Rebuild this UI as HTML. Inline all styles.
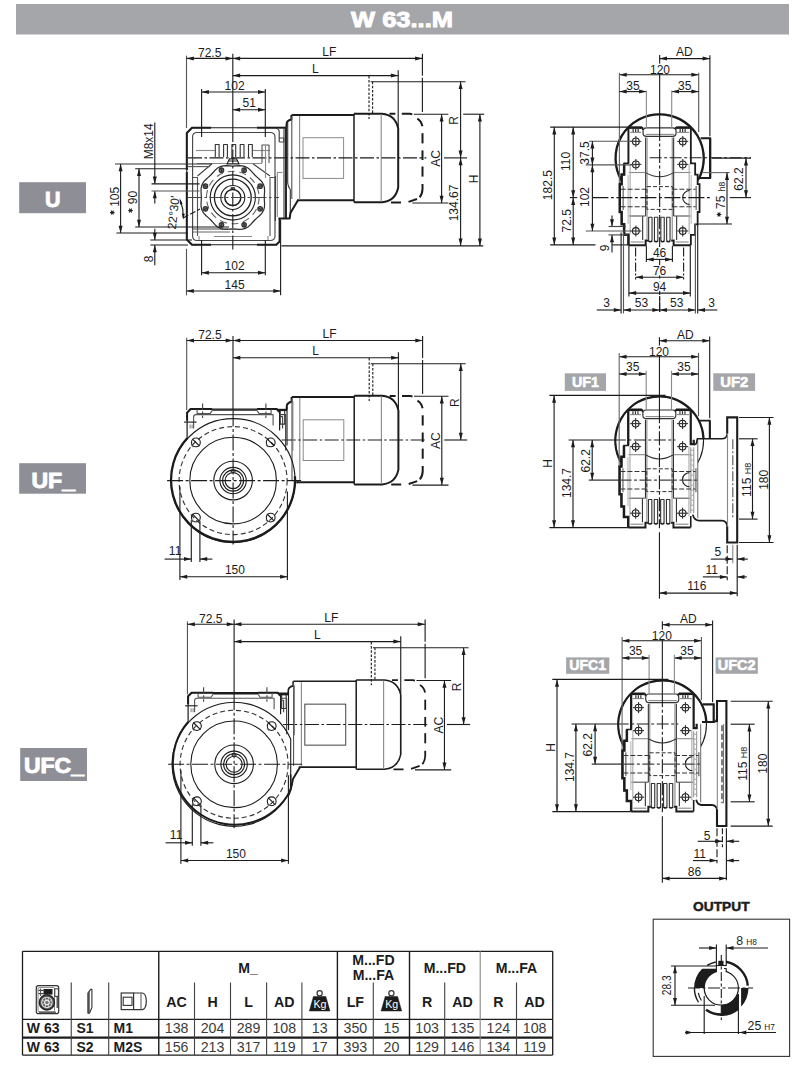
<!DOCTYPE html>
<html><head><meta charset="utf-8"><title>W 63...M</title>
<style>
html,body{margin:0;padding:0;background:#fff;}
body{width:800px;height:1073px;overflow:hidden;font-family:"Liberation Sans",sans-serif;}
svg{display:block;position:absolute;left:0;top:0;}
svg text{font-family:"Liberation Sans",sans-serif;}
</style></head><body>
<svg width="800" height="1073" viewBox="0 0 800 1073">
<rect x="16" y="4" width="773" height="30.5" fill="#a5a6a9"/>
<text x="402" y="26.6" font-size="21.5" text-anchor="middle" fill="#fff" font-weight="bold" stroke="#fff" stroke-width="0.9" textLength="102" lengthAdjust="spacingAndGlyphs">W 63...M</text>
<rect x="19.2" y="182.2" width="66.8" height="31" fill="#8e8f96"/>
<text x="45" y="207" font-size="22.5" text-anchor="start" fill="#fff" font-weight="bold" stroke="#fff" stroke-width="0.95" textLength="15.5" lengthAdjust="spacingAndGlyphs">U</text>
<rect x="19.2" y="463.2" width="66.8" height="30.5" fill="#8e8f96"/>
<text x="31.5" y="487.5" font-size="22.5" text-anchor="start" fill="#fff" font-weight="bold" stroke="#fff" stroke-width="0.95" textLength="43.5" lengthAdjust="spacingAndGlyphs">UF_</text>
<rect x="20.2" y="748" width="66.8" height="33" fill="#8e8f96"/>
<text x="24" y="773.3" font-size="22.5" text-anchor="start" fill="#fff" font-weight="bold" stroke="#fff" stroke-width="0.95" textLength="60" lengthAdjust="spacingAndGlyphs">UFC_</text>
<line x1="22.5" y1="951.3" x2="552.7" y2="951.3" stroke="#1c1c1c" stroke-width="1.3"/>
<line x1="22.5" y1="1055.1" x2="552.7" y2="1055.1" stroke="#1c1c1c" stroke-width="1.3"/>
<line x1="22.5" y1="951.3" x2="22.5" y2="1055.1" stroke="#1c1c1c" stroke-width="1.3"/>
<line x1="552.7" y1="951.3" x2="552.7" y2="1055.1" stroke="#1c1c1c" stroke-width="1.3"/>
<line x1="22.5" y1="1019.4" x2="552.7" y2="1019.4" stroke="#1c1c1c" stroke-width="1.2"/>
<line x1="22.5" y1="1037.6" x2="552.7" y2="1037.6" stroke="#1c1c1c" stroke-width="2.2"/>
<line x1="71.25" y1="982.5" x2="71.25" y2="1055.1" stroke="#444" stroke-width="1.12"/>
<line x1="108.7" y1="982.5" x2="108.7" y2="1055.1" stroke="#444" stroke-width="1.12"/>
<line x1="194.5" y1="982.5" x2="194.5" y2="1055.1" stroke="#444" stroke-width="1.12"/>
<line x1="230.5" y1="982.5" x2="230.5" y2="1055.1" stroke="#444" stroke-width="1.12"/>
<line x1="266.6" y1="982.5" x2="266.6" y2="1055.1" stroke="#444" stroke-width="1.12"/>
<line x1="301.9" y1="982.5" x2="301.9" y2="1055.1" stroke="#444" stroke-width="1.12"/>
<line x1="373.3" y1="982.5" x2="373.3" y2="1055.1" stroke="#444" stroke-width="1.12"/>
<line x1="444.7" y1="982.5" x2="444.7" y2="1055.1" stroke="#444" stroke-width="1.12"/>
<line x1="516.5" y1="982.5" x2="516.5" y2="1055.1" stroke="#444" stroke-width="1.12"/>
<line x1="158.75" y1="951.3" x2="158.75" y2="1055.1" stroke="#1c1c1c" stroke-width="1.4"/>
<line x1="337.4" y1="951.3" x2="337.4" y2="1055.1" stroke="#1c1c1c" stroke-width="1.4"/>
<line x1="409.5" y1="951.3" x2="409.5" y2="1055.1" stroke="#1c1c1c" stroke-width="1.4"/>
<line x1="480.2" y1="951.3" x2="480.2" y2="1055.1" stroke="#888" stroke-width="1.12"/>
<text x="248.07" y="972.8" font-size="14.1" text-anchor="middle" fill="#1c1c1c" font-weight="bold">M_</text>
<text x="373.45" y="964.9" font-size="14.1" text-anchor="middle" fill="#1c1c1c" font-weight="bold">M...FD</text>
<text x="373.45" y="980" font-size="14.1" text-anchor="middle" fill="#1c1c1c" font-weight="bold">M...FA</text>
<text x="444.85" y="972.8" font-size="14.1" text-anchor="middle" fill="#1c1c1c" font-weight="bold">M...FD</text>
<text x="516.45" y="972.8" font-size="14.1" text-anchor="middle" fill="#1c1c1c" font-weight="bold">M...FA</text>
<text x="176.62" y="1006.5" font-size="14.2" text-anchor="middle" fill="#1c1c1c" font-weight="bold">AC</text>
<text x="212.5" y="1006.5" font-size="14.2" text-anchor="middle" fill="#1c1c1c" font-weight="bold">H</text>
<text x="248.55" y="1006.5" font-size="14.2" text-anchor="middle" fill="#1c1c1c" font-weight="bold">L</text>
<text x="284.25" y="1006.5" font-size="14.2" text-anchor="middle" fill="#1c1c1c" font-weight="bold">AD</text>
<text x="355.35" y="1006.5" font-size="14.2" text-anchor="middle" fill="#1c1c1c" font-weight="bold">LF</text>
<text x="427.1" y="1006.5" font-size="14.2" text-anchor="middle" fill="#1c1c1c" font-weight="bold">R</text>
<text x="462.45" y="1006.5" font-size="14.2" text-anchor="middle" fill="#1c1c1c" font-weight="bold">AD</text>
<text x="498.35" y="1006.5" font-size="14.2" text-anchor="middle" fill="#1c1c1c" font-weight="bold">R</text>
<text x="534.6" y="1006.5" font-size="14.2" text-anchor="middle" fill="#1c1c1c" font-weight="bold">AD</text>
<text x="26.8" y="1033.3" font-size="14" text-anchor="start" fill="#1c1c1c" font-weight="bold">W 63</text>
<text x="76.5" y="1033.3" font-size="14" text-anchor="start" fill="#1c1c1c" font-weight="bold">S1</text>
<text x="113.5" y="1033.3" font-size="14" text-anchor="start" fill="#1c1c1c" font-weight="bold">M1</text>
<text x="176.62" y="1033.4" font-size="14.2" text-anchor="middle" fill="#3c3c3c">138</text>
<text x="212.5" y="1033.4" font-size="14.2" text-anchor="middle" fill="#3c3c3c">204</text>
<text x="248.55" y="1033.4" font-size="14.2" text-anchor="middle" fill="#3c3c3c">289</text>
<text x="284.25" y="1033.4" font-size="14.2" text-anchor="middle" fill="#3c3c3c">108</text>
<text x="319.65" y="1033.4" font-size="14.2" text-anchor="middle" fill="#3c3c3c">13</text>
<text x="355.35" y="1033.4" font-size="14.2" text-anchor="middle" fill="#3c3c3c">350</text>
<text x="391.4" y="1033.4" font-size="14.2" text-anchor="middle" fill="#3c3c3c">15</text>
<text x="427.1" y="1033.4" font-size="14.2" text-anchor="middle" fill="#3c3c3c">103</text>
<text x="462.45" y="1033.4" font-size="14.2" text-anchor="middle" fill="#3c3c3c">135</text>
<text x="498.35" y="1033.4" font-size="14.2" text-anchor="middle" fill="#3c3c3c">124</text>
<text x="534.6" y="1033.4" font-size="14.2" text-anchor="middle" fill="#3c3c3c">108</text>
<text x="26.8" y="1052.2" font-size="14" text-anchor="start" fill="#1c1c1c" font-weight="bold">W 63</text>
<text x="76.5" y="1052.2" font-size="14" text-anchor="start" fill="#1c1c1c" font-weight="bold">S2</text>
<text x="113.5" y="1052.2" font-size="14" text-anchor="start" fill="#1c1c1c" font-weight="bold">M2S</text>
<text x="176.62" y="1052.3" font-size="14.2" text-anchor="middle" fill="#3c3c3c">156</text>
<text x="212.5" y="1052.3" font-size="14.2" text-anchor="middle" fill="#3c3c3c">213</text>
<text x="248.55" y="1052.3" font-size="14.2" text-anchor="middle" fill="#3c3c3c">317</text>
<text x="284.25" y="1052.3" font-size="14.2" text-anchor="middle" fill="#3c3c3c">119</text>
<text x="319.65" y="1052.3" font-size="14.2" text-anchor="middle" fill="#3c3c3c">17</text>
<text x="355.35" y="1052.3" font-size="14.2" text-anchor="middle" fill="#3c3c3c">393</text>
<text x="391.4" y="1052.3" font-size="14.2" text-anchor="middle" fill="#3c3c3c">20</text>
<text x="427.1" y="1052.3" font-size="14.2" text-anchor="middle" fill="#3c3c3c">129</text>
<text x="462.45" y="1052.3" font-size="14.2" text-anchor="middle" fill="#3c3c3c">146</text>
<text x="498.35" y="1052.3" font-size="14.2" text-anchor="middle" fill="#3c3c3c">134</text>
<text x="534.6" y="1052.3" font-size="14.2" text-anchor="middle" fill="#3c3c3c">119</text>
<circle cx="319.65" cy="993.2" r="2.6" stroke="#333" stroke-width="1.2" fill="none"/>
<path d="M313.45 996.5 L325.85 996.5 L329.95 1011 L309.35 1011 Z" stroke="#1c1c1c" stroke-width="0.5" fill="#1c1c1c" stroke-linejoin="round"/>
<text x="319.95" y="1008.2" font-size="10.6" text-anchor="middle" fill="#fff">Kg</text>
<circle cx="391.4" cy="993.2" r="2.6" stroke="#333" stroke-width="1.2" fill="none"/>
<path d="M385.2 996.5 L397.6 996.5 L401.7 1011 L381.1 1011 Z" stroke="#1c1c1c" stroke-width="0.5" fill="#1c1c1c" stroke-linejoin="round"/>
<text x="391.7" y="1008.2" font-size="10.6" text-anchor="middle" fill="#fff">Kg</text>
<rect x="36.3" y="985.6" width="22.4" height="28" rx="2.2" stroke="#333" stroke-width="1.2" fill="none"/>
<rect x="38" y="987.4" width="16.5" height="24.6" rx="1.5" stroke="#666" stroke-width="0.8" fill="none"/>
<circle cx="46.9" cy="1002.4" r="7.6" stroke="#222" stroke-width="1.3" fill="#555"/>
<circle cx="46.9" cy="1002.4" r="5.2" stroke="#ddd" stroke-width="1.12" fill="none"/>
<circle cx="46.9" cy="1002.4" r="2.3" stroke="#eee" stroke-width="1.12" fill="#777"/>
<line x1="49.3" y1="1003.39" x2="51.52" y2="1004.31" stroke="#ddd" stroke-width="0.9"/>
<line x1="47.89" y1="1004.8" x2="48.81" y2="1007.02" stroke="#ddd" stroke-width="0.9"/>
<line x1="45.91" y1="1004.8" x2="44.99" y2="1007.02" stroke="#ddd" stroke-width="0.9"/>
<line x1="44.5" y1="1003.39" x2="42.28" y2="1004.31" stroke="#ddd" stroke-width="0.9"/>
<line x1="44.5" y1="1001.41" x2="42.28" y2="1000.49" stroke="#ddd" stroke-width="0.9"/>
<line x1="45.91" y1="1000" x2="44.99" y2="997.78" stroke="#ddd" stroke-width="0.9"/>
<line x1="47.89" y1="1000" x2="48.81" y2="997.78" stroke="#ddd" stroke-width="0.9"/>
<line x1="49.3" y1="1001.41" x2="51.52" y2="1000.49" stroke="#ddd" stroke-width="0.9"/>
<rect x="43.5" y="989" width="9" height="5.6" fill="#1c1c1c"/>
<line x1="38.5" y1="990.4" x2="43.5" y2="990.4" stroke="#333" stroke-width="1.12"/>
<line x1="38.5" y1="993.6" x2="43.5" y2="993.6" stroke="#333" stroke-width="1.12"/>
<line x1="40.5" y1="988.5" x2="40.5" y2="996" stroke="#555" stroke-width="1.12"/>
<rect x="54.8" y="988.8" width="3.6" height="7.6" rx="0" stroke="#333" stroke-width="1" fill="#fff"/>
<line x1="57.2" y1="996.5" x2="57.2" y2="1008" stroke="#333" stroke-width="1.2"/>
<line x1="39" y1="1012.2" x2="56" y2="1012.2" stroke="#444" stroke-width="1.2"/>
<path d="M88 1013.2 L88 993 L90.8 989.2 L91.9 989.2 L91.9 1007.5 L89.4 1013.2 Z" stroke="#333" stroke-width="1.12" fill="#fff" stroke-linejoin="round"/>
<path d="M88 1013 L88 993 L89.4 991.2 L89.4 1013 Z" stroke="#444" stroke-width="0.6" fill="#555" stroke-linejoin="round"/>
<rect x="121.2" y="993" width="12.4" height="16.6" rx="0" stroke="#333" stroke-width="1.2" fill="none"/>
<rect x="123.2" y="997.2" width="8.8" height="8.2" rx="0" stroke="#333" stroke-width="1.1" fill="none"/>
<path d="M133.6 993 L142.5 993 Q146.3 994 146.3 1001.3 Q146.3 1008.6 142.5 1009.6 L133.6 1009.6" stroke="#333" stroke-width="1.2" fill="none" stroke-linejoin="round"/>
<line x1="141" y1="993" x2="141" y2="1009.6" stroke="#666" stroke-width="1.12"/>
<text x="721.3" y="911.2" font-size="12.8" text-anchor="middle" fill="#1c1c1c" font-weight="bold" stroke="#1c1c1c" stroke-width="0.45" textLength="56.5" lengthAdjust="spacingAndGlyphs">OUTPUT</text>
<rect x="653.2" y="919.2" width="136.4" height="137.2" rx="0" stroke="#333" stroke-width="1.1" fill="none"/>
<defs><clipPath id="oc1"><rect x="690" y="968.7" width="26.6" height="19.3"/></clipPath><clipPath id="oc2"><rect x="721.3" y="994.5" width="17.1" height="25"/></clipPath><clipPath id="oc3"><rect x="741.1" y="988" width="10" height="18.5"/></clipPath></defs>
<path d="M694.1 988 a27.2 27.2 0 1 0 54.4 0 a27.2 27.2 0 1 0 -54.4 0 Z M704.2 988 a17.1 17.1 0 1 0 34.2 0 a17.1 17.1 0 1 0 -34.2 0 Z" fill="#1c1c1c" fill-rule="evenodd" clip-path="url(#oc1)"/>
<path d="M694.1 988 a27.2 27.2 0 1 0 54.4 0 a27.2 27.2 0 1 0 -54.4 0 Z M704.2 988 a17.1 17.1 0 1 0 34.2 0 a17.1 17.1 0 1 0 -34.2 0 Z" fill="#1c1c1c" fill-rule="evenodd" clip-path="url(#oc2)"/>
<path d="M694.1 988 a27.2 27.2 0 1 0 54.4 0 a27.2 27.2 0 1 0 -54.4 0 Z M704.2 988 a17.1 17.1 0 1 0 34.2 0 a17.1 17.1 0 1 0 -34.2 0 Z" fill="#1c1c1c" fill-rule="evenodd" clip-path="url(#oc3)"/>
<path d="M747.8 985.68 A26.599999999999998 26.599999999999998 0 0 0 725.92 961.8" stroke="#1c1c1c" stroke-width="2.4" fill="none" stroke-linejoin="round"/>
<path d="M706.04 1009.79 A26.599999999999998 26.599999999999998 0 0 0 738.4 1008.38" stroke="#1c1c1c" stroke-width="2.6" fill="none" stroke-linejoin="round"/>
<path d="M694.4 988 A26.9 26.9 0 0 0 698.49 1002.25" stroke="#1c1c1c" stroke-width="1.4" fill="none" stroke-linejoin="round"/>
<path d="M715.77 961.98 A26.599999999999998 26.599999999999998 0 0 0 707.2 965.44" stroke="#1c1c1c" stroke-width="1.6" fill="none" stroke-linejoin="round"/>
<path d="M698.31 992.89 A23.5 23.5 0 0 0 701.37 1000.45" stroke="#1c1c1c" stroke-width="1.2" fill="none" stroke-linejoin="round"/>
<circle cx="721.3" cy="988" r="17.1" stroke="#1c1c1c" stroke-width="1.2" fill="none"/>
<rect x="716.9" y="960" width="9" height="12.5" fill="#fff"/>
<path d="M716.4 972 L716.4 965.5 M726.2 972 L726.2 968.5 L724 968.5" stroke="#1c1c1c" stroke-width="1.1" fill="none" stroke-linejoin="round"/>
<rect x="718.3" y="960.8" width="5.2" height="4.4" fill="#1c1c1c"/>
<line x1="716.4" y1="965.5" x2="726.2" y2="965.5" stroke="#1c1c1c" stroke-width="1.12"/>
<line x1="688" y1="988" x2="753" y2="988" stroke="#1c1c1c" stroke-width="1.1" stroke-dasharray="12 2.5 3 2.5"/>
<line x1="721.3" y1="955" x2="721.3" y2="1020" stroke="#1c1c1c" stroke-width="1.1" stroke-dasharray="9 2.5 3 2.5"/>
<line x1="716.4" y1="944.5" x2="716.4" y2="966" stroke="#1c1c1c" stroke-width="1.12"/>
<line x1="726.2" y1="944.5" x2="726.2" y2="966" stroke="#1c1c1c" stroke-width="1.12"/>
<line x1="699" y1="948" x2="716.4" y2="948" stroke="#1c1c1c" stroke-width="1.12"/>
<polygon points="716.4,948 709.1,946 709.1,950" fill="#1c1c1c"/>
<line x1="726.2" y1="948" x2="768" y2="948" stroke="#1c1c1c" stroke-width="1.12"/>
<polygon points="726.2,948 733.5,946 733.5,950" fill="#1c1c1c"/>
<text x="736.3" y="945.4" font-size="12.3" fill="#1c1c1c">8<tspan font-size="8.3" dx="3.2">H8</tspan></text>
<line x1="671" y1="966" x2="716.4" y2="966" stroke="#1c1c1c" stroke-width="1.12"/>
<line x1="671" y1="1005.3" x2="715" y2="1005.3" stroke="#1c1c1c" stroke-width="1.12"/>
<line x1="675" y1="966" x2="675" y2="1005.3" stroke="#1c1c1c" stroke-width="1.12"/>
<polygon points="675,966 673,973.3 677,973.3" fill="#1c1c1c"/>
<polygon points="675,1005.3 673,998 677,998" fill="#1c1c1c"/>
<text x="671.3" y="985.3" font-size="12.3" text-anchor="middle" fill="#1c1c1c" transform="rotate(-90 671.3 985.3)" textLength="19.8" lengthAdjust="spacingAndGlyphs">28.3</text>
<line x1="704.2" y1="996" x2="704.2" y2="1034" stroke="#1c1c1c" stroke-width="1.12"/>
<line x1="738.4" y1="994" x2="738.4" y2="1034" stroke="#1c1c1c" stroke-width="1.12"/>
<line x1="685" y1="1032.5" x2="776" y2="1032.5" stroke="#1c1c1c" stroke-width="1.12"/>
<polygon points="693,1032.5 685.7,1030.5 685.7,1034.5" fill="#1c1c1c"/>
<polygon points="739,1032.5 746.3,1030.5 746.3,1034.5" fill="#1c1c1c"/>
<text x="747.6" y="1029.5" font-size="12.3" fill="#1c1c1c">25<tspan font-size="8.3" dx="3">H7</tspan></text>
<g transform="translate(232.8 157.9) scale(1.0) translate(-232.8 -157.9)">
<path d="M291.6 115 L354 115 M297 200.2 L354 200.2" stroke="#1c1c1c" stroke-width="2.0" fill="none" stroke-linejoin="round"/>
<path d="M354 113.7 L382 113.7 Q395.5 115 398.2 128.5 L398.2 187.5 Q395.5 201 382 202.3 L354 202.3" stroke="#1c1c1c" stroke-width="2.0" fill="none" stroke-linejoin="round"/>
<line x1="354" y1="113.7" x2="354" y2="202.3" stroke="#1c1c1c" stroke-width="1.5"/>
<line x1="381.2" y1="114.5" x2="381.2" y2="201.5" stroke="#8a8a8a" stroke-width="1.12"/>
<path d="M291.4 115 L291.4 119.6 Q287.6 120.4 286.7 123 L286.4 127.6" stroke="#1c1c1c" stroke-width="2.0" fill="none" stroke-linejoin="round"/>
<line x1="299.6" y1="116" x2="299.6" y2="199.4" stroke="#8a8a8a" stroke-width="1.12"/>
<line x1="291.8" y1="117" x2="291.8" y2="199" stroke="#555" stroke-width="1.12"/>
<rect x="303" y="137.7" width="40.6" height="40.7" rx="0" stroke="#8a8a8a" stroke-width="1" fill="none"/>
<line x1="188" y1="157.9" x2="426.4" y2="157.9" stroke="#1c1c1c" stroke-width="1.12" stroke-dasharray="14 2.5 2.5 2.5"/>
<line x1="444" y1="157.9" x2="467" y2="157.9" stroke="#1c1c1c" stroke-width="1.12"/>
<path d="M389.5 113.8 L395.4 113.8 M401.8 113.8 L410 113.8 L412.3 114.4" stroke="#1c1c1c" stroke-width="2.0" fill="none" stroke-linejoin="round"/>
<path d="M417.3 118.6 Q421.3 121 422.4 126.2" stroke="#1c1c1c" stroke-width="2.0" fill="none" stroke-linejoin="round"/>
<line x1="422.5" y1="133.2" x2="422.5" y2="143.4" stroke="#1c1c1c" stroke-width="2.0"/>
<line x1="422.5" y1="150.4" x2="422.5" y2="160" stroke="#1c1c1c" stroke-width="2.0"/>
<line x1="422.5" y1="166.5" x2="422.5" y2="176.6" stroke="#1c1c1c" stroke-width="2.0"/>
<path d="M422.5 184 L422.5 189 Q422.3 194.5 419.6 197.3" stroke="#1c1c1c" stroke-width="2.0" fill="none" stroke-linejoin="round"/>
<path d="M417 199 L408.5 201.9 M401 202.4 L391 202.4" stroke="#1c1c1c" stroke-width="2.0" fill="none" stroke-linejoin="round"/>
<line x1="232.8" y1="53.8" x2="232.8" y2="128" stroke="#1c1c1c" stroke-width="1.12"/>
<line x1="186.5" y1="55.6" x2="186.5" y2="128" stroke="#555" stroke-width="1.12"/>
<line x1="186.5" y1="58.4" x2="232.8" y2="58.4" stroke="#1c1c1c" stroke-width="1.12"/>
<polygon points="186.5,58.4 193.8,56.4 193.8,60.4" fill="#1c1c1c"/>
<polygon points="232.8,58.4 225.5,56.4 225.5,60.4" fill="#1c1c1c"/>
<text x="209.7" y="57.1" font-size="12.0" text-anchor="middle" fill="#1c1c1c">72.5</text>
<line x1="232.8" y1="58.4" x2="422.4" y2="58.4" stroke="#1c1c1c" stroke-width="1.12"/>
<polygon points="232.8,58.4 240.1,56.4 240.1,60.4" fill="#1c1c1c"/>
<polygon points="422.4,58.4 415.1,56.4 415.1,60.4" fill="#1c1c1c"/>
<text x="329.3" y="56.4" font-size="12.0" text-anchor="middle" fill="#1c1c1c">LF</text>
<line x1="422.4" y1="53.8" x2="422.4" y2="75.8" stroke="#1c1c1c" stroke-width="1.12"/>
<line x1="422.4" y1="77.8" x2="422.4" y2="112" stroke="#1c1c1c" stroke-width="1.12"/>
<line x1="232.8" y1="75.6" x2="398.2" y2="75.6" stroke="#1c1c1c" stroke-width="1.12"/>
<polygon points="232.8,75.6 240.1,73.6 240.1,77.6" fill="#1c1c1c"/>
<polygon points="398.2,75.6 390.9,73.6 390.9,77.6" fill="#1c1c1c"/>
<text x="315.4" y="72.8" font-size="12.0" text-anchor="middle" fill="#1c1c1c">L</text>
<line x1="398.2" y1="70.2" x2="398.2" y2="127" stroke="#1c1c1c" stroke-width="1.12"/>
<line x1="369" y1="76" x2="369" y2="119" stroke="#1c1c1c" stroke-width="1.12" stroke-dasharray="2.5 1.6"/>
<line x1="372.6" y1="81.7" x2="372.6" y2="114" stroke="#1c1c1c" stroke-width="1.12" stroke-dasharray="2.5 1.6"/>
<line x1="370.6" y1="81.7" x2="465.5" y2="81.7" stroke="#1c1c1c" stroke-width="1.12"/>
<line x1="460.6" y1="81.7" x2="460.6" y2="157.9" stroke="#1c1c1c" stroke-width="1.12"/>
<polygon points="460.6,81.7 458.6,89 462.6,89" fill="#1c1c1c"/>
<polygon points="460.6,157.9 458.6,150.6 462.6,150.6" fill="#1c1c1c"/>
<text x="458.3" y="120.5" font-size="12.0" text-anchor="middle" fill="#1c1c1c" transform="rotate(-90 458.3 120.5)">R</text>
<line x1="413.8" y1="114.2" x2="448.3" y2="114.2" stroke="#1c1c1c" stroke-width="1.12"/>
<line x1="412.3" y1="203" x2="448.3" y2="203" stroke="#1c1c1c" stroke-width="1.12"/>
<line x1="441.6" y1="114.2" x2="441.6" y2="203" stroke="#1c1c1c" stroke-width="1.12"/>
<polygon points="441.6,114.2 439.6,121.5 443.6,121.5" fill="#1c1c1c"/>
<polygon points="441.6,203 439.6,195.7 443.6,195.7" fill="#1c1c1c"/>
<text x="439.8" y="158.5" font-size="12.0" text-anchor="middle" fill="#1c1c1c" transform="rotate(-90 439.8 158.5)">AC</text>
</g>
<g transform="translate(233 440) scale(1.0) translate(-232.8 -157.9)">
<path d="M291.6 115 L354 115 M297 200.2 L354 200.2" stroke="#1c1c1c" stroke-width="2.0" fill="none" stroke-linejoin="round"/>
<path d="M354 113.7 L382 113.7 Q395.5 115 398.2 128.5 L398.2 187.5 Q395.5 201 382 202.3 L354 202.3" stroke="#1c1c1c" stroke-width="2.0" fill="none" stroke-linejoin="round"/>
<line x1="354" y1="113.7" x2="354" y2="202.3" stroke="#1c1c1c" stroke-width="1.5"/>
<line x1="381.2" y1="114.5" x2="381.2" y2="201.5" stroke="#8a8a8a" stroke-width="1.12"/>
<path d="M291.4 115 L291.4 119.6 Q287.6 120.4 286.7 123 L286.4 127.6" stroke="#1c1c1c" stroke-width="2.0" fill="none" stroke-linejoin="round"/>
<line x1="299.6" y1="116" x2="299.6" y2="199.4" stroke="#8a8a8a" stroke-width="1.12"/>
<line x1="291.8" y1="117" x2="291.8" y2="199" stroke="#555" stroke-width="1.12"/>
<rect x="303" y="137.7" width="40.6" height="40.7" rx="0" stroke="#8a8a8a" stroke-width="1" fill="none"/>
<line x1="281.5" y1="157.9" x2="426.4" y2="157.9" stroke="#1c1c1c" stroke-width="1.12" stroke-dasharray="14 2.5 2.5 2.5"/>
<line x1="444" y1="157.9" x2="467" y2="157.9" stroke="#1c1c1c" stroke-width="1.12"/>
<line x1="286.8" y1="125" x2="286.8" y2="163.5" stroke="#1c1c1c" stroke-width="1.12"/>
<path d="M277 128 L286.8 128" stroke="#1c1c1c" stroke-width="2.0" fill="none" stroke-linejoin="round"/>
<path d="M280 128.5 L280 142 L284.5 142 L284.5 128.5" stroke="#333" stroke-width="1.12" fill="none" stroke-linejoin="round"/>
<line x1="292.6" y1="168.5" x2="292.6" y2="119" stroke="#777" stroke-width="1.12"/>
<path d="M297.9 200.2 L296 200.2" stroke="#1c1c1c" stroke-width="2.0" fill="none" stroke-linejoin="round"/>
<path d="M389.5 113.8 L395.4 113.8 M401.8 113.8 L410 113.8 L412.3 114.4" stroke="#1c1c1c" stroke-width="2.0" fill="none" stroke-linejoin="round"/>
<path d="M417.3 118.6 Q421.3 121 422.4 126.2" stroke="#1c1c1c" stroke-width="2.0" fill="none" stroke-linejoin="round"/>
<line x1="422.5" y1="133.2" x2="422.5" y2="143.4" stroke="#1c1c1c" stroke-width="2.0"/>
<line x1="422.5" y1="150.4" x2="422.5" y2="160" stroke="#1c1c1c" stroke-width="2.0"/>
<line x1="422.5" y1="166.5" x2="422.5" y2="176.6" stroke="#1c1c1c" stroke-width="2.0"/>
<path d="M422.5 184 L422.5 189 Q422.3 194.5 419.6 197.3" stroke="#1c1c1c" stroke-width="2.0" fill="none" stroke-linejoin="round"/>
<path d="M417 199 L408.5 201.9 M401 202.4 L391 202.4" stroke="#1c1c1c" stroke-width="2.0" fill="none" stroke-linejoin="round"/>
<line x1="232.8" y1="53.8" x2="232.8" y2="128" stroke="#1c1c1c" stroke-width="1.12"/>
<line x1="186.5" y1="55.6" x2="186.5" y2="128" stroke="#555" stroke-width="1.12"/>
<line x1="186.5" y1="58.4" x2="232.8" y2="58.4" stroke="#1c1c1c" stroke-width="1.12"/>
<polygon points="186.5,58.4 193.8,56.4 193.8,60.4" fill="#1c1c1c"/>
<polygon points="232.8,58.4 225.5,56.4 225.5,60.4" fill="#1c1c1c"/>
<text x="209.7" y="57.1" font-size="12.0" text-anchor="middle" fill="#1c1c1c">72.5</text>
<line x1="232.8" y1="58.4" x2="422.4" y2="58.4" stroke="#1c1c1c" stroke-width="1.12"/>
<polygon points="232.8,58.4 240.1,56.4 240.1,60.4" fill="#1c1c1c"/>
<polygon points="422.4,58.4 415.1,56.4 415.1,60.4" fill="#1c1c1c"/>
<text x="329.3" y="56.4" font-size="12.0" text-anchor="middle" fill="#1c1c1c">LF</text>
<line x1="422.4" y1="53.8" x2="422.4" y2="75.8" stroke="#1c1c1c" stroke-width="1.12"/>
<line x1="422.4" y1="77.8" x2="422.4" y2="112" stroke="#1c1c1c" stroke-width="1.12"/>
<line x1="232.8" y1="75.6" x2="398.2" y2="75.6" stroke="#1c1c1c" stroke-width="1.12"/>
<polygon points="232.8,75.6 240.1,73.6 240.1,77.6" fill="#1c1c1c"/>
<polygon points="398.2,75.6 390.9,73.6 390.9,77.6" fill="#1c1c1c"/>
<text x="315.4" y="72.8" font-size="12.0" text-anchor="middle" fill="#1c1c1c">L</text>
<line x1="398.2" y1="70.2" x2="398.2" y2="127" stroke="#1c1c1c" stroke-width="1.12"/>
<line x1="369" y1="76" x2="369" y2="119" stroke="#1c1c1c" stroke-width="1.12" stroke-dasharray="2.5 1.6"/>
<line x1="372.6" y1="81.7" x2="372.6" y2="114" stroke="#1c1c1c" stroke-width="1.12" stroke-dasharray="2.5 1.6"/>
<line x1="370.6" y1="81.7" x2="465.5" y2="81.7" stroke="#1c1c1c" stroke-width="1.12"/>
<line x1="460.6" y1="81.7" x2="460.6" y2="157.9" stroke="#1c1c1c" stroke-width="1.12"/>
<polygon points="460.6,81.7 458.6,89 462.6,89" fill="#1c1c1c"/>
<polygon points="460.6,157.9 458.6,150.6 462.6,150.6" fill="#1c1c1c"/>
<text x="458.3" y="120.5" font-size="12.0" text-anchor="middle" fill="#1c1c1c" transform="rotate(-90 458.3 120.5)">R</text>
<line x1="413.8" y1="114.2" x2="448.3" y2="114.2" stroke="#1c1c1c" stroke-width="1.12"/>
<line x1="412.3" y1="203" x2="448.3" y2="203" stroke="#1c1c1c" stroke-width="1.12"/>
<line x1="441.6" y1="114.2" x2="441.6" y2="203" stroke="#1c1c1c" stroke-width="1.12"/>
<polygon points="441.6,114.2 439.6,121.5 443.6,121.5" fill="#1c1c1c"/>
<polygon points="441.6,203 439.6,195.7 443.6,195.7" fill="#1c1c1c"/>
<text x="439.8" y="158.5" font-size="12.0" text-anchor="middle" fill="#1c1c1c" transform="rotate(-90 439.8 158.5)">AC</text>
</g>
<g transform="translate(234.1 724.5) scale(1.0075) translate(-232.8 -157.9)">
<path d="M291.6 115 L354 115 M297 200.2 L354 200.2" stroke="#1c1c1c" stroke-width="1.6" fill="none" stroke-linejoin="round"/>
<path d="M354 113.7 L382 113.7 Q395.5 115 398.2 128.5 L398.2 187.5 Q395.5 201 382 202.3 L354 202.3" stroke="#1c1c1c" stroke-width="1.6" fill="none" stroke-linejoin="round"/>
<line x1="354" y1="113.7" x2="354" y2="202.3" stroke="#1c1c1c" stroke-width="1.5"/>
<line x1="381.2" y1="114.5" x2="381.2" y2="201.5" stroke="#8a8a8a" stroke-width="1.12"/>
<path d="M291.4 115 L291.4 119.6 Q287.6 120.4 286.7 123 L286.4 127.6" stroke="#1c1c1c" stroke-width="1.6" fill="none" stroke-linejoin="round"/>
<line x1="299.6" y1="116" x2="299.6" y2="199.4" stroke="#8a8a8a" stroke-width="1.12"/>
<line x1="291.8" y1="117" x2="291.8" y2="199" stroke="#555" stroke-width="1.12"/>
<rect x="303" y="137.7" width="40.6" height="40.7" rx="0" stroke="#444" stroke-width="1" fill="none"/>
<line x1="281.5" y1="157.9" x2="426.4" y2="157.9" stroke="#1c1c1c" stroke-width="1.12" stroke-dasharray="14 2.5 2.5 2.5"/>
<line x1="444" y1="157.9" x2="467" y2="157.9" stroke="#1c1c1c" stroke-width="1.12"/>
<line x1="286.8" y1="125" x2="286.8" y2="163.5" stroke="#1c1c1c" stroke-width="1.12"/>
<path d="M277 128 L286.8 128" stroke="#1c1c1c" stroke-width="2.0" fill="none" stroke-linejoin="round"/>
<path d="M280 128.5 L280 142 L284.5 142 L284.5 128.5" stroke="#333" stroke-width="1.12" fill="none" stroke-linejoin="round"/>
<line x1="292.6" y1="168.5" x2="292.6" y2="119" stroke="#777" stroke-width="1.12"/>
<path d="M298.3 200.2 L291.2 212 L290 218.5 L287 228" stroke="#1c1c1c" stroke-width="1.9" fill="none" stroke-linejoin="round"/>
<path d="M389.5 113.8 L395.4 113.8 M401.8 113.8 L410 113.8 L412.3 114.4" stroke="#1c1c1c" stroke-width="1.8" fill="none" stroke-linejoin="round"/>
<path d="M417.3 118.6 Q421.3 121 422.4 126.2" stroke="#1c1c1c" stroke-width="1.8" fill="none" stroke-linejoin="round"/>
<line x1="422.5" y1="133.2" x2="422.5" y2="143.4" stroke="#1c1c1c" stroke-width="1.8"/>
<line x1="422.5" y1="150.4" x2="422.5" y2="160" stroke="#1c1c1c" stroke-width="1.8"/>
<line x1="422.5" y1="166.5" x2="422.5" y2="176.6" stroke="#1c1c1c" stroke-width="1.8"/>
<path d="M422.5 184 L422.5 189 Q422.3 194.5 419.6 197.3" stroke="#1c1c1c" stroke-width="1.8" fill="none" stroke-linejoin="round"/>
<path d="M417 199 L408.5 201.9 M401 202.4 L391 202.4" stroke="#1c1c1c" stroke-width="1.8" fill="none" stroke-linejoin="round"/>
<line x1="232.8" y1="53.8" x2="232.8" y2="128" stroke="#1c1c1c" stroke-width="1.12"/>
<line x1="186.5" y1="55.6" x2="186.5" y2="128" stroke="#555" stroke-width="1.12"/>
<line x1="186.5" y1="58.4" x2="232.8" y2="58.4" stroke="#1c1c1c" stroke-width="1.12"/>
<polygon points="186.5,58.4 193.8,56.4 193.8,60.4" fill="#1c1c1c"/>
<polygon points="232.8,58.4 225.5,56.4 225.5,60.4" fill="#1c1c1c"/>
<text x="209.7" y="57.1" font-size="12.0" text-anchor="middle" fill="#1c1c1c">72.5</text>
<line x1="232.8" y1="58.4" x2="422.4" y2="58.4" stroke="#1c1c1c" stroke-width="1.12"/>
<polygon points="232.8,58.4 240.1,56.4 240.1,60.4" fill="#1c1c1c"/>
<polygon points="422.4,58.4 415.1,56.4 415.1,60.4" fill="#1c1c1c"/>
<text x="329.3" y="56.4" font-size="12.0" text-anchor="middle" fill="#1c1c1c">LF</text>
<line x1="422.4" y1="53.8" x2="422.4" y2="75.8" stroke="#1c1c1c" stroke-width="1.12"/>
<line x1="422.4" y1="77.8" x2="422.4" y2="112" stroke="#1c1c1c" stroke-width="1.12"/>
<line x1="232.8" y1="75.6" x2="398.2" y2="75.6" stroke="#1c1c1c" stroke-width="1.12"/>
<polygon points="232.8,75.6 240.1,73.6 240.1,77.6" fill="#1c1c1c"/>
<polygon points="398.2,75.6 390.9,73.6 390.9,77.6" fill="#1c1c1c"/>
<text x="315.4" y="72.8" font-size="12.0" text-anchor="middle" fill="#1c1c1c">L</text>
<line x1="398.2" y1="70.2" x2="398.2" y2="127" stroke="#1c1c1c" stroke-width="1.12"/>
<line x1="369" y1="76" x2="369" y2="119" stroke="#1c1c1c" stroke-width="1.12" stroke-dasharray="2.5 1.6"/>
<line x1="372.6" y1="81.7" x2="372.6" y2="114" stroke="#1c1c1c" stroke-width="1.12" stroke-dasharray="2.5 1.6"/>
<line x1="370.6" y1="81.7" x2="465.5" y2="81.7" stroke="#1c1c1c" stroke-width="1.12"/>
<line x1="460.6" y1="81.7" x2="460.6" y2="157.9" stroke="#1c1c1c" stroke-width="1.12"/>
<polygon points="460.6,81.7 458.6,89 462.6,89" fill="#1c1c1c"/>
<polygon points="460.6,157.9 458.6,150.6 462.6,150.6" fill="#1c1c1c"/>
<text x="458.3" y="120.5" font-size="12.0" text-anchor="middle" fill="#1c1c1c" transform="rotate(-90 458.3 120.5)">R</text>
<line x1="413.8" y1="114.2" x2="448.3" y2="114.2" stroke="#1c1c1c" stroke-width="1.12"/>
<line x1="412.3" y1="203" x2="448.3" y2="203" stroke="#1c1c1c" stroke-width="1.12"/>
<line x1="441.6" y1="114.2" x2="441.6" y2="203" stroke="#1c1c1c" stroke-width="1.12"/>
<polygon points="441.6,114.2 439.6,121.5 443.6,121.5" fill="#1c1c1c"/>
<polygon points="441.6,203 439.6,195.7 443.6,195.7" fill="#1c1c1c"/>
<text x="439.8" y="158.5" font-size="12.0" text-anchor="middle" fill="#1c1c1c" transform="rotate(-90 439.8 158.5)">AC</text>
</g>
<path d="M192 127.8 L275 127.8 M275.3 176 L275.3 221 M276.5 244.8 L192 244.8 L186.8 239.5 L186.8 133 L192 127.8" stroke="#1c1c1c" stroke-width="1.1" fill="none" stroke-linejoin="round"/>
<path d="M186.8 170 L186.8 133 L192 127.8 L211 127.8" stroke="#1c1c1c" stroke-width="2.0" fill="none" stroke-linejoin="round"/>
<path d="M257 127.7 L286.4 127.7" stroke="#1c1c1c" stroke-width="2.0" fill="none" stroke-linejoin="round"/>
<path d="M275.5 128.2 Q279 128.6 279.2 131.5 L279.2 142" stroke="#333" stroke-width="1.1" fill="none" stroke-linejoin="round"/>
<path d="M186.8 172 L186.8 239.5 L192 244.8 L211 244.8" stroke="#1c1c1c" stroke-width="2.0" fill="none" stroke-linejoin="round"/>
<path d="M257 244.8 L276.3 244.8 L279.6 241.5 L279.6 218.5" stroke="#1c1c1c" stroke-width="2.0" fill="none" stroke-linejoin="round"/>
<path d="M197 132.5 L270 132.5 Q275 132.5 275 137 L275 236 Q275 240.5 270 240.5 L197 240.5 Q192.6 240.5 192.6 236 L192.6 137 Q192.6 132.5 197 132.5 Z" stroke="#444" stroke-width="1.12" fill="none" stroke-linejoin="round"/>
<path d="M215.3 157 L215.3 144.5 L219.1 144.5 L219.1 157" stroke="#333" stroke-width="1.12" fill="none" stroke-linejoin="round"/>
<path d="M223.6 157 L223.6 144.5 L227.4 144.5 L227.4 157" stroke="#333" stroke-width="1.12" fill="none" stroke-linejoin="round"/>
<path d="M231.9 157 L231.9 144.5 L235.7 144.5 L235.7 157" stroke="#333" stroke-width="1.12" fill="none" stroke-linejoin="round"/>
<path d="M240.2 157 L240.2 144.5 L244 144.5 L244 157" stroke="#333" stroke-width="1.12" fill="none" stroke-linejoin="round"/>
<path d="M248.5 157 L248.5 144.5 L252.3 144.5 L252.3 157" stroke="#333" stroke-width="1.12" fill="none" stroke-linejoin="round"/>
<line x1="196" y1="150.5" x2="215" y2="150.5" stroke="#8a8a8a" stroke-width="1.12"/>
<line x1="253" y1="150.5" x2="270" y2="150.5" stroke="#8a8a8a" stroke-width="1.12"/>
<line x1="197" y1="163.5" x2="262" y2="163.5" stroke="#8a8a8a" stroke-width="1.12"/>
<line x1="286" y1="127.6" x2="286" y2="218.3" stroke="#1c1c1c" stroke-width="1.9"/>
<line x1="284" y1="128.5" x2="284" y2="218" stroke="#333" stroke-width="1.1"/>
<path d="M279.2 138 L283.8 138 L283.8 142 L279.2 142" stroke="#444" stroke-width="1.12" fill="none" stroke-linejoin="round"/>
<path d="M287.7 123 L287.7 183 Q288 187 290.3 189.5 L290.3 213" stroke="#333" stroke-width="1.1" fill="none" stroke-linejoin="round"/>
<line x1="277" y1="172.5" x2="282.5" y2="172.5" stroke="#8a8a8a" stroke-width="1.12"/>
<line x1="277.3" y1="172.5" x2="277.3" y2="217" stroke="#8a8a8a" stroke-width="1.12"/>
<path d="M278.5 218.4 L289.7 218.4 L290.4 213 L297.8 200.4" stroke="#1c1c1c" stroke-width="2.0" fill="none" stroke-linejoin="round"/>
<line x1="280.6" y1="220" x2="280.6" y2="295.3" stroke="#1c1c1c" stroke-width="1.12"/>
<line x1="281.5" y1="245.9" x2="483.3" y2="245.9" stroke="#1c1c1c" stroke-width="1.12"/>
<circle cx="232.8" cy="197.5" r="8" stroke="#1c1c1c" stroke-width="1.5" fill="none"/>
<circle cx="232.8" cy="197.5" r="12" stroke="#1c1c1c" stroke-width="1.1" fill="none"/>
<circle cx="232.8" cy="197.5" r="18.4" stroke="#1c1c1c" stroke-width="1.3" fill="none"/>
<circle cx="232.8" cy="197.5" r="22.6" stroke="#1c1c1c" stroke-width="1.1" fill="none"/>
<path d="M232.8 166.05 L235.91 165.92 L239.12 165.72 L242.4 165.85 L245.56 166.69 L248.39 168.33 L250.8 170.56 L252.93 172.97 L255.04 175.26 L257.33 177.37 L259.74 179.5 L261.97 181.91 L263.61 184.74 L264.45 187.9 L264.58 191.18 L264.38 194.39 L264.25 197.5 L264.38 200.61 L264.58 203.82 L264.45 207.1 L263.61 210.26 L261.97 213.09 L259.74 215.5 L257.33 217.63 L255.04 219.74 L252.93 222.03 L250.8 224.44 L248.39 226.67 L245.56 228.31 L242.4 229.15 L239.12 229.28 L235.91 229.08 L232.8 228.95 L229.69 229.08 L226.48 229.28 L223.2 229.15 L220.04 228.31 L217.21 226.67 L214.8 224.44 L212.67 222.03 L210.56 219.74 L208.27 217.63 L205.86 215.5 L203.63 213.09 L201.99 210.26 L201.15 207.1 L201.02 203.82 L201.22 200.61 L201.35 197.5 L201.22 194.39 L201.02 191.18 L201.15 187.9 L201.99 184.74 L203.63 181.91 L205.86 179.5 L208.27 177.37 L210.56 175.26 L212.67 172.97 L214.8 170.56 L217.21 168.33 L220.04 166.69 L223.2 165.85 L226.48 165.72 L229.69 165.92 Z" stroke="#2a2a2a" stroke-width="1.2" fill="none" stroke-linejoin="round"/>
<circle cx="232.8" cy="197.5" r="26.3" stroke="#666" stroke-width="1.12" fill="none" stroke-dasharray="7 4.8"/>
<circle cx="244.13" cy="170.15" r="2.3" stroke="#333" stroke-width="1.12" fill="#666"/>
<line x1="243.13" y1="172.56" x2="245.24" y2="167.47" stroke="#333" stroke-width="1.12"/>
<circle cx="260.15" cy="186.17" r="2.3" stroke="#333" stroke-width="1.12" fill="#666"/>
<line x1="257.74" y1="187.17" x2="262.83" y2="185.06" stroke="#333" stroke-width="1.12"/>
<circle cx="260.15" cy="208.83" r="2.3" stroke="#333" stroke-width="1.12" fill="#666"/>
<line x1="257.74" y1="207.83" x2="262.83" y2="209.94" stroke="#333" stroke-width="1.12"/>
<circle cx="244.13" cy="224.85" r="2.3" stroke="#333" stroke-width="1.12" fill="#666"/>
<line x1="243.13" y1="222.44" x2="245.24" y2="227.53" stroke="#333" stroke-width="1.12"/>
<circle cx="221.47" cy="224.85" r="2.3" stroke="#333" stroke-width="1.12" fill="#666"/>
<line x1="222.47" y1="222.44" x2="220.36" y2="227.53" stroke="#333" stroke-width="1.12"/>
<circle cx="205.45" cy="208.83" r="2.3" stroke="#333" stroke-width="1.12" fill="#666"/>
<line x1="207.86" y1="207.83" x2="202.77" y2="209.94" stroke="#333" stroke-width="1.12"/>
<circle cx="205.45" cy="186.17" r="2.3" stroke="#333" stroke-width="1.12" fill="#666"/>
<line x1="207.86" y1="187.17" x2="202.77" y2="185.06" stroke="#333" stroke-width="1.12"/>
<circle cx="221.47" cy="170.15" r="2.3" stroke="#333" stroke-width="1.12" fill="#666"/>
<line x1="222.47" y1="172.56" x2="220.36" y2="167.47" stroke="#333" stroke-width="1.12"/>
<path d="M197.5 176 L212 163.8 M270 176 L253 163.8" stroke="#444" stroke-width="1.12" fill="none" stroke-linejoin="round"/>
<path d="M192.8 177.5 L197.5 177.5 L197.5 236 M275 177.5 L270 177.5 L270 236" stroke="#555" stroke-width="1.12" fill="none" stroke-linejoin="round"/>
<line x1="193" y1="229" x2="228" y2="229" stroke="#444" stroke-width="1.12"/>
<line x1="193" y1="232" x2="230" y2="232" stroke="#666" stroke-width="1.12"/>
<line x1="214" y1="236.5" x2="252" y2="236.5" stroke="#8a8a8a" stroke-width="1.12"/>
<path d="M199 236 L199 240 M268 236 L268 240" stroke="#8a8a8a" stroke-width="1.12" fill="none" stroke-linejoin="round"/>
<path d="M262 163 L262 145 L269 145 L269 163" stroke="#555" stroke-width="1.12" fill="none" stroke-linejoin="round"/>
<line x1="265.5" y1="145" x2="265.5" y2="178" stroke="#8a8a8a" stroke-width="1.12"/>
<path d="M231.2 189.7 L231.2 187.7 L234.4 187.7 L234.4 189.7" stroke="#1c1c1c" stroke-width="1.12" fill="none" stroke-linejoin="round"/>
<path d="M227 164 L229.5 158.8 L236.5 158.8 L239 164 Z" stroke="#222" stroke-width="1.2" fill="none" stroke-linejoin="round"/>
<line x1="229" y1="161" x2="237" y2="161" stroke="#333" stroke-width="1.12"/>
<line x1="232.8" y1="128" x2="232.8" y2="250" stroke="#1c1c1c" stroke-width="1.12" stroke-dasharray="14 2.5 2.5 2.5"/>
<line x1="188" y1="197.5" x2="279" y2="197.5" stroke="#444" stroke-width="1.12" stroke-dasharray="14 2.5 2.5 2.5"/>
<line x1="201.6" y1="89" x2="201.6" y2="137" stroke="#1c1c1c" stroke-width="1.12"/>
<line x1="265.3" y1="89" x2="265.3" y2="137" stroke="#1c1c1c" stroke-width="1.12"/>
<line x1="201.6" y1="240" x2="201.6" y2="275.2" stroke="#1c1c1c" stroke-width="1.12"/>
<line x1="265.3" y1="240" x2="265.3" y2="275.2" stroke="#1c1c1c" stroke-width="1.12"/>
<line x1="186.5" y1="248.8" x2="186.5" y2="295.3" stroke="#555" stroke-width="1.12"/>
<line x1="201.6" y1="92" x2="265.3" y2="92" stroke="#1c1c1c" stroke-width="1.12"/>
<polygon points="201.6,92 208.9,90 208.9,94" fill="#1c1c1c"/>
<polygon points="265.3,92 258,90 258,94" fill="#1c1c1c"/>
<text x="234.6" y="89.8" font-size="12.0" text-anchor="middle" fill="#1c1c1c">102</text>
<line x1="232.8" y1="109.7" x2="265.3" y2="109.7" stroke="#1c1c1c" stroke-width="1.12"/>
<polygon points="232.8,109.7 240.1,107.7 240.1,111.7" fill="#1c1c1c"/>
<polygon points="265.3,109.7 258,107.7 258,111.7" fill="#1c1c1c"/>
<text x="249.2" y="107.4" font-size="12.0" text-anchor="middle" fill="#1c1c1c">51</text>
<line x1="201.6" y1="272.7" x2="265.3" y2="272.7" stroke="#1c1c1c" stroke-width="1.12"/>
<polygon points="201.6,272.7 208.9,270.7 208.9,274.7" fill="#1c1c1c"/>
<polygon points="265.3,272.7 258,270.7 258,274.7" fill="#1c1c1c"/>
<text x="234.6" y="270.2" font-size="12.0" text-anchor="middle" fill="#1c1c1c">102</text>
<line x1="186.5" y1="291" x2="280.6" y2="291" stroke="#1c1c1c" stroke-width="1.12"/>
<polygon points="186.5,291 193.8,289 193.8,293" fill="#1c1c1c"/>
<polygon points="280.6,291 273.3,289 273.3,293" fill="#1c1c1c"/>
<text x="234.6" y="289" font-size="12.0" text-anchor="middle" fill="#1c1c1c">145</text>
<line x1="115" y1="164" x2="212" y2="164" stroke="#333" stroke-width="1.12"/>
<line x1="116.4" y1="233" x2="188" y2="233" stroke="#1c1c1c" stroke-width="1.12"/>
<line x1="188" y1="166.6" x2="210" y2="166.6" stroke="#555" stroke-width="1.12"/>
<line x1="120.6" y1="164" x2="120.6" y2="233" stroke="#1c1c1c" stroke-width="1.12"/>
<polygon points="120.6,164 118.6,171.3 122.6,171.3" fill="#1c1c1c"/>
<polygon points="120.6,233 118.6,225.7 122.6,225.7" fill="#1c1c1c"/>
<text x="118.6" y="196.8" font-size="12.0" text-anchor="middle" fill="#1c1c1c" transform="rotate(-90 118.6 196.8)">105</text>
<line x1="110" y1="212.6" x2="114.6" y2="212.6" stroke="#1c1c1c" stroke-width="1.1"/>
<line x1="111.15" y1="210.61" x2="113.45" y2="214.59" stroke="#1c1c1c" stroke-width="1.1"/>
<line x1="113.45" y1="210.61" x2="111.15" y2="214.59" stroke="#1c1c1c" stroke-width="1.1"/>
<line x1="135.2" y1="168.8" x2="188" y2="168.8" stroke="#1c1c1c" stroke-width="1.12"/>
<line x1="135.2" y1="227" x2="229" y2="227" stroke="#1c1c1c" stroke-width="1.12"/>
<line x1="139" y1="168.8" x2="139" y2="227" stroke="#1c1c1c" stroke-width="1.12"/>
<polygon points="139,168.8 137,176.1 141,176.1" fill="#1c1c1c"/>
<polygon points="139,227 137,219.7 141,219.7" fill="#1c1c1c"/>
<text x="136.6" y="197.6" font-size="12.0" text-anchor="middle" fill="#1c1c1c" transform="rotate(-90 136.6 197.6)">90</text>
<line x1="128.2" y1="210.6" x2="132.8" y2="210.6" stroke="#1c1c1c" stroke-width="1.1"/>
<line x1="129.35" y1="208.61" x2="131.65" y2="212.59" stroke="#1c1c1c" stroke-width="1.1"/>
<line x1="131.65" y1="208.61" x2="129.35" y2="212.59" stroke="#1c1c1c" stroke-width="1.1"/>
<text x="152.8" y="141.3" font-size="12.0" text-anchor="middle" fill="#1c1c1c" transform="rotate(-90 152.8 141.3)">M8x14</text>
<line x1="154.8" y1="122.5" x2="154.8" y2="183.9" stroke="#1c1c1c" stroke-width="1.12"/>
<polygon points="154.8,183.9 152.8,176.6 156.8,176.6" fill="#1c1c1c"/>
<line x1="154.8" y1="191" x2="154.8" y2="203.5" stroke="#1c1c1c" stroke-width="1.12"/>
<polygon points="154.8,191 152.8,198.3 156.8,198.3" fill="#1c1c1c"/>
<line x1="151.5" y1="183.9" x2="199.5" y2="183.9" stroke="#1c1c1c" stroke-width="1.12"/>
<line x1="151.5" y1="191" x2="199.5" y2="191" stroke="#555" stroke-width="1.12"/>
<text x="177.6" y="213" font-size="12" text-anchor="middle" fill="#1c1c1c" transform="rotate(-84 177.6 213)">22°30'</text>
<path d="M180.4 200.5 Q183.6 209 183.3 217.5" stroke="#1c1c1c" stroke-width="1.12" fill="none" stroke-linejoin="round"/>
<polygon points="179.6,198.3 182.6,203.8 180,204.6" fill="#1c1c1c"/><polygon points="183.3,219.6 181.8,213.6 184.8,213.8" fill="#1c1c1c"/>
<line x1="183" y1="218" x2="200" y2="209" stroke="#1c1c1c" stroke-width="1.12" stroke-dasharray="6 2"/>
<text x="152.6" y="259" font-size="12.0" text-anchor="middle" fill="#1c1c1c" transform="rotate(-90 152.6 259)">8</text>
<line x1="154.8" y1="228.7" x2="154.8" y2="240" stroke="#1c1c1c" stroke-width="1.12"/>
<polygon points="154.8,240 152.8,232.7 156.8,232.7" fill="#1c1c1c"/>
<line x1="154.8" y1="245" x2="154.8" y2="265.2" stroke="#1c1c1c" stroke-width="1.12"/>
<polygon points="154.8,245 152.8,252.3 156.8,252.3" fill="#1c1c1c"/>
<line x1="150.3" y1="240" x2="192" y2="240" stroke="#1c1c1c" stroke-width="1.12"/>
<line x1="150.3" y1="245" x2="188" y2="245" stroke="#1c1c1c" stroke-width="1.12"/>
<line x1="460.6" y1="157.9" x2="460.6" y2="245.9" stroke="#1c1c1c" stroke-width="1.12"/>
<polygon points="460.6,157.9 458.6,165.2 462.6,165.2" fill="#1c1c1c"/>
<polygon points="460.6,245.9 458.6,238.6 462.6,238.6" fill="#1c1c1c"/>
<text x="458.3" y="203" font-size="12.0" text-anchor="middle" fill="#1c1c1c" transform="rotate(-90 458.3 203)">134.67</text>
<line x1="463.2" y1="114.2" x2="484.2" y2="114.2" stroke="#1c1c1c" stroke-width="1.12"/>
<line x1="479.9" y1="114.2" x2="479.9" y2="245.9" stroke="#1c1c1c" stroke-width="1.12"/>
<polygon points="479.9,114.2 477.9,121.5 481.9,121.5" fill="#1c1c1c"/>
<polygon points="479.9,245.9 477.9,238.6 481.9,238.6" fill="#1c1c1c"/>
<text x="478" y="178.9" font-size="12.0" text-anchor="middle" fill="#1c1c1c" transform="rotate(-90 478 178.9)">H</text>
<g transform="translate(233.1 480.6)">
<path d="M-46 -42 L-46 -68 L-42.5 -71.6 L43.5 -71.6 L46.5 -68.5 L46.5 -50" stroke="#1c1c1c" stroke-width="1.2" fill="none" stroke-linejoin="round"/>
<path d="M-46 -60 L-46 -68 L-42.5 -71.6 L-21 -71.6" stroke="#1c1c1c" stroke-width="2.0" fill="none" stroke-linejoin="round"/>
<path d="M24 -71.6 L43.5 -71.6 L46.5 -68.5" stroke="#1c1c1c" stroke-width="2.0" fill="none" stroke-linejoin="round"/>
<line x1="44" y1="-70.8" x2="53.6" y2="-70.8" stroke="#1c1c1c" stroke-width="2.0"/>
<line x1="-21" y1="-70.6" x2="24" y2="-70.6" stroke="#1c1c1c" stroke-width="1.6"/>
<path d="M-39.5 -52 L-39.5 -63.5 Q-39.5 -66 -37 -66 L40 -66 L40 -55" stroke="#555" stroke-width="1.12" fill="none" stroke-linejoin="round"/>
<path d="M-36 -71 L-36 -67 L-23 -67 L-21 -70 M24 -70 L26 -67 L38 -67 L38 -71" stroke="#555" stroke-width="1.12" fill="none" stroke-linejoin="round"/>
<line x1="-30.5" y1="-77" x2="-30.5" y2="-62.5" stroke="#444" stroke-width="1.12" stroke-dasharray="6 2 2 2"/>
<line x1="32.8" y1="-77" x2="32.8" y2="-62.5" stroke="#444" stroke-width="1.12" stroke-dasharray="6 2 2 2"/>
<line x1="-49" y1="-58.5" x2="-36.5" y2="-58.5" stroke="#1c1c1c" stroke-width="1.12"/>
<line x1="-43" y1="-56" x2="-43" y2="-52" stroke="#8a8a8a" stroke-width="1.12"/>
<line x1="-41" y1="-56" x2="-41" y2="-52" stroke="#8a8a8a" stroke-width="1.12"/>
<path d="M46.5 -66 L52.5 -66 L52.5 -30 M46.5 -64 L49.5 -64 L49.5 -52" stroke="#444" stroke-width="1.12" fill="none" stroke-linejoin="round"/>
<circle cx="0" cy="0" r="62" stroke="#1c1c1c" stroke-width="1.1" fill="none"/>
<path d="M-46 -42.3 A 62.0 62.0 0 1 0 61.85 -4.32" stroke="#1c1c1c" stroke-width="2.3" fill="none" stroke-linejoin="round"/>
<circle cx="0" cy="0" r="54" stroke="#333" stroke-width="1.12" fill="none" stroke-dasharray="5 3"/>
<circle cx="0" cy="0" r="43.3" stroke="#1c1c1c" stroke-width="1.1" fill="none"/>
<circle cx="0" cy="0" r="19.3" stroke="#1c1c1c" stroke-width="1.1" fill="none"/>
<circle cx="0" cy="0" r="13.2" stroke="#1c1c1c" stroke-width="1.1" fill="none"/>
<circle cx="0" cy="0" r="10.5" stroke="#1c1c1c" stroke-width="1.1" fill="none"/>
<circle cx="0" cy="0" r="8" stroke="#1c1c1c" stroke-width="1.1" fill="none"/>
<path d="M-1.8 -8 L-1.8 -10.5 L1.8 -10.5 L1.8 -8" stroke="#1c1c1c" stroke-width="1.12" fill="none" stroke-linejoin="round"/>
<circle cx="-37.2" cy="-38.2" r="4.4" stroke="#1c1c1c" stroke-width="1.1" fill="none"/>
<line x1="-40.8" y1="-41.8" x2="-33.6" y2="-34.6" stroke="#1c1c1c" stroke-width="1.12"/>
<line x1="-41.8" y1="-36" x2="-39.6" y2="-33.6" stroke="#555" stroke-width="1.12"/>
<circle cx="-37.2" cy="37" r="4.4" stroke="#1c1c1c" stroke-width="1.1" fill="none"/>
<line x1="-40.8" y1="33.4" x2="-33.6" y2="40.6" stroke="#1c1c1c" stroke-width="1.12"/>
<line x1="-41.8" y1="39.2" x2="-39.6" y2="41.6" stroke="#555" stroke-width="1.12"/>
<circle cx="37.6" cy="-38.2" r="4.4" stroke="#1c1c1c" stroke-width="1.1" fill="none"/>
<line x1="34" y1="-41.8" x2="41.2" y2="-34.6" stroke="#1c1c1c" stroke-width="1.12"/>
<line x1="33" y1="-36" x2="35.2" y2="-33.6" stroke="#555" stroke-width="1.12"/>
<circle cx="37.6" cy="37" r="4.4" stroke="#1c1c1c" stroke-width="1.1" fill="none"/>
<line x1="34" y1="33.4" x2="41.2" y2="40.6" stroke="#1c1c1c" stroke-width="1.12"/>
<line x1="33" y1="39.2" x2="35.2" y2="41.6" stroke="#555" stroke-width="1.12"/>
<line x1="0" y1="-70" x2="0" y2="64" stroke="#1c1c1c" stroke-width="1.12" stroke-dasharray="16 2.5 3 2.5"/>
<line x1="-66" y1="0" x2="68" y2="0" stroke="#1c1c1c" stroke-width="1.12" stroke-dasharray="16 2.5 3 2.5"/>
<line x1="-53.2" y1="6" x2="-53.2" y2="99.5" stroke="#1c1c1c" stroke-width="1.12"/>
<line x1="54.3" y1="11" x2="54.3" y2="99.5" stroke="#1c1c1c" stroke-width="1.12"/>
<line x1="-41.8" y1="40" x2="-41.8" y2="81.5" stroke="#1c1c1c" stroke-width="1.12"/>
<line x1="-33.2" y1="40" x2="-33.2" y2="81.5" stroke="#1c1c1c" stroke-width="1.12"/>
<line x1="-68.5" y1="78.5" x2="-41.8" y2="78.5" stroke="#1c1c1c" stroke-width="1.12"/>
<polygon points="-41.8,78.5 -49.1,76.5 -49.1,80.5" fill="#1c1c1c"/>
<line x1="-33.2" y1="78.5" x2="-20.7" y2="78.5" stroke="#1c1c1c" stroke-width="1.12"/>
<polygon points="-33.2,78.5 -25.9,76.5 -25.9,80.5" fill="#1c1c1c"/>
<text x="-58" y="74.6" font-size="12.0" text-anchor="middle" fill="#1c1c1c">11</text>
<line x1="-53.2" y1="96.2" x2="54.3" y2="96.2" stroke="#1c1c1c" stroke-width="1.12"/>
<polygon points="-53.2,96.2 -45.9,94.2 -45.9,98.2" fill="#1c1c1c"/>
<polygon points="54.3,96.2 47,94.2 47,98.2" fill="#1c1c1c"/>
<text x="1.8" y="93.3" font-size="12.0" text-anchor="middle" fill="#1c1c1c">150</text>
</g>
<g transform="translate(234.1 764.3)">
<path d="M-46 -42 L-46 -68 L-42.5 -71.6 L43.5 -71.6 L46.5 -68.5 L46.5 -50" stroke="#1c1c1c" stroke-width="1.2" fill="none" stroke-linejoin="round"/>
<path d="M-46 -60 L-46 -68 L-42.5 -71.6 L-21 -71.6" stroke="#1c1c1c" stroke-width="2.0" fill="none" stroke-linejoin="round"/>
<path d="M24 -71.6 L43.5 -71.6 L46.5 -68.5" stroke="#1c1c1c" stroke-width="2.0" fill="none" stroke-linejoin="round"/>
<line x1="44" y1="-70.8" x2="53.6" y2="-70.8" stroke="#1c1c1c" stroke-width="2.0"/>
<line x1="-21" y1="-70.6" x2="24" y2="-70.6" stroke="#1c1c1c" stroke-width="1.6"/>
<path d="M-39.5 -52 L-39.5 -63.5 Q-39.5 -66 -37 -66 L40 -66 L40 -55" stroke="#555" stroke-width="1.12" fill="none" stroke-linejoin="round"/>
<path d="M-36 -71 L-36 -67 L-23 -67 L-21 -70 M24 -70 L26 -67 L38 -67 L38 -71" stroke="#555" stroke-width="1.12" fill="none" stroke-linejoin="round"/>
<line x1="-30.5" y1="-77" x2="-30.5" y2="-62.5" stroke="#444" stroke-width="1.12" stroke-dasharray="6 2 2 2"/>
<line x1="32.8" y1="-77" x2="32.8" y2="-62.5" stroke="#444" stroke-width="1.12" stroke-dasharray="6 2 2 2"/>
<line x1="-49" y1="-58.5" x2="-36.5" y2="-58.5" stroke="#1c1c1c" stroke-width="1.12"/>
<line x1="-43" y1="-56" x2="-43" y2="-52" stroke="#8a8a8a" stroke-width="1.12"/>
<line x1="-41" y1="-56" x2="-41" y2="-52" stroke="#8a8a8a" stroke-width="1.12"/>
<path d="M46.5 -66 L52.5 -66 L52.5 -30 M46.5 -64 L49.5 -64 L49.5 -52" stroke="#444" stroke-width="1.12" fill="none" stroke-linejoin="round"/>
<path d="M56.6 -25.31 A62.0 62.0 0 1 0 56.6 25.31 Z" stroke="#1c1c1c" stroke-width="1.1" fill="none" stroke-linejoin="round"/>
<path d="M-46 -42.3 A 62.0 62.0 0 1 0 56.6 25.31" stroke="#1c1c1c" stroke-width="2.0" fill="none" stroke-linejoin="round"/>
<line x1="56.6" y1="10" x2="56.6" y2="25.31" stroke="#1c1c1c" stroke-width="1.6"/>
<circle cx="0" cy="0" r="54" stroke="#333" stroke-width="1.12" fill="none" stroke-dasharray="5 3"/>
<circle cx="0" cy="0" r="43.3" stroke="#1c1c1c" stroke-width="1.1" fill="none"/>
<circle cx="0" cy="0" r="19.3" stroke="#1c1c1c" stroke-width="1.1" fill="none"/>
<circle cx="0" cy="0" r="13.2" stroke="#1c1c1c" stroke-width="1.1" fill="none"/>
<circle cx="0" cy="0" r="10.5" stroke="#1c1c1c" stroke-width="1.1" fill="none"/>
<circle cx="0" cy="0" r="8" stroke="#1c1c1c" stroke-width="1.1" fill="none"/>
<path d="M-1.8 -8 L-1.8 -10.5 L1.8 -10.5 L1.8 -8" stroke="#1c1c1c" stroke-width="1.12" fill="none" stroke-linejoin="round"/>
<circle cx="-37.2" cy="-38.2" r="4.4" stroke="#1c1c1c" stroke-width="1.1" fill="none"/>
<line x1="-40.8" y1="-41.8" x2="-33.6" y2="-34.6" stroke="#1c1c1c" stroke-width="1.12"/>
<line x1="-41.8" y1="-36" x2="-39.6" y2="-33.6" stroke="#555" stroke-width="1.12"/>
<circle cx="-37.2" cy="37" r="4.4" stroke="#1c1c1c" stroke-width="1.1" fill="none"/>
<line x1="-40.8" y1="33.4" x2="-33.6" y2="40.6" stroke="#1c1c1c" stroke-width="1.12"/>
<line x1="-41.8" y1="39.2" x2="-39.6" y2="41.6" stroke="#555" stroke-width="1.12"/>
<circle cx="37.6" cy="-38.2" r="4.4" stroke="#1c1c1c" stroke-width="1.1" fill="none"/>
<line x1="34" y1="-41.8" x2="41.2" y2="-34.6" stroke="#1c1c1c" stroke-width="1.12"/>
<line x1="33" y1="-36" x2="35.2" y2="-33.6" stroke="#555" stroke-width="1.12"/>
<circle cx="37.6" cy="37" r="4.4" stroke="#1c1c1c" stroke-width="1.1" fill="none"/>
<line x1="34" y1="33.4" x2="41.2" y2="40.6" stroke="#1c1c1c" stroke-width="1.12"/>
<line x1="33" y1="39.2" x2="35.2" y2="41.6" stroke="#555" stroke-width="1.12"/>
<line x1="0" y1="-70" x2="0" y2="64" stroke="#1c1c1c" stroke-width="1.12" stroke-dasharray="16 2.5 3 2.5"/>
<line x1="-66" y1="0" x2="68" y2="0" stroke="#1c1c1c" stroke-width="1.12" stroke-dasharray="16 2.5 3 2.5"/>
<line x1="-53.2" y1="6" x2="-53.2" y2="99.5" stroke="#1c1c1c" stroke-width="1.12"/>
<line x1="54.3" y1="11" x2="54.3" y2="99.5" stroke="#1c1c1c" stroke-width="1.12"/>
<line x1="-41.8" y1="40" x2="-41.8" y2="81.5" stroke="#1c1c1c" stroke-width="1.12"/>
<line x1="-33.2" y1="40" x2="-33.2" y2="81.5" stroke="#1c1c1c" stroke-width="1.12"/>
<line x1="-68.5" y1="78.5" x2="-41.8" y2="78.5" stroke="#1c1c1c" stroke-width="1.12"/>
<polygon points="-41.8,78.5 -49.1,76.5 -49.1,80.5" fill="#1c1c1c"/>
<line x1="-33.2" y1="78.5" x2="-20.7" y2="78.5" stroke="#1c1c1c" stroke-width="1.12"/>
<polygon points="-33.2,78.5 -25.9,76.5 -25.9,80.5" fill="#1c1c1c"/>
<text x="-58" y="74.6" font-size="12.0" text-anchor="middle" fill="#1c1c1c">11</text>
<line x1="-53.2" y1="96.2" x2="54.3" y2="96.2" stroke="#1c1c1c" stroke-width="1.12"/>
<polygon points="-53.2,96.2 -45.9,94.2 -45.9,98.2" fill="#1c1c1c"/>
<polygon points="54.3,96.2 47,94.2 47,98.2" fill="#1c1c1c"/>
<text x="1.8" y="93.3" font-size="12.0" text-anchor="middle" fill="#1c1c1c">150</text>
</g>
<circle cx="659.65" cy="158.4" r="44.1" stroke="#1c1c1c" stroke-width="1.1" fill="none"/>
<path d="M621.08 179.78 A44.1 44.1 0 1 1 698.59 179.1" stroke="#1c1c1c" stroke-width="2.3" fill="none" stroke-linejoin="round"/>
<g>
<path d="M628.45 127.3 L628.45 163.3 L624.15 163.3 L624.15 174.6 L621.65 174.6 L621.65 184.2 L619.75 184.2 L619.75 212 L621.65 212 L621.65 224.3 L624.15 224.3 L624.15 234.8 L628.45 234.8 L628.45 245.3 L690.85 245.3 L690.85 234.8 L695.15 234.8 L695.15 224.3 L697.65 224.3 L697.65 212 L699.55 212 L699.55 184.2 L697.65 184.2 L697.65 174.6 L695.15 174.6 L695.15 163.3 L690.85 163.3 L690.85 127.3 Z" fill="#fff" stroke="none"/>
</g>
<path d="M628.45 127.3 L628.45 163.3 L624.15 163.3 L624.15 174.6 L621.65 174.6 L621.65 184.2 L619.75 184.2 L619.75 212 L621.65 212 L621.65 224.3 L624.15 224.3 L624.15 234.8 L628.45 234.8 L628.45 245.3" stroke="#1c1c1c" stroke-width="1.4" fill="none" stroke-linejoin="miter"/>
<path d="M628.45 127.3 L628.45 163.3" stroke="#1c1c1c" stroke-width="1.7" fill="none" stroke-linejoin="round"/>
<path d="M690.85 127.3 L690.85 163.3 L695.15 163.3 L695.15 174.6 L697.65 174.6 L697.65 184.2 L699.55 184.2 L699.55 212 L697.65 212 L697.65 224.3 L695.15 224.3 L695.15 234.8 L690.85 234.8 L690.85 245.3" stroke="#1c1c1c" stroke-width="1.8" fill="none" stroke-linejoin="miter"/>
<path d="M624.15 163.3 L624.15 174.6 L621.65 174.6 L621.65 184.2 L619.75 184.2 L619.75 212 L621.65 212 L621.65 224.3 L624.15 224.3 L624.15 234.8 L628.45 234.8 L628.45 245.3" stroke="#1c1c1c" stroke-width="2.5" fill="none" stroke-linejoin="miter"/>
<line x1="628.45" y1="127.6" x2="642.15" y2="127.6" stroke="#1c1c1c" stroke-width="2.6"/>
<line x1="676.15" y1="127.6" x2="690.85" y2="127.6" stroke="#1c1c1c" stroke-width="2.6"/>
<path d="M642.65 127.1 L642.65 130 M675.65 127.1 L675.65 130" stroke="#1c1c1c" stroke-width="1.4" fill="none" stroke-linejoin="round"/>
<rect x="643.05" y="127.8" width="33" height="8.6" rx="3.4" stroke="#333" stroke-width="1.2" fill="none"/>
<line x1="645.65" y1="134.4" x2="674.15" y2="134.4" stroke="#8a8a8a" stroke-width="1.12"/>
<line x1="630.15" y1="132.4" x2="641.15" y2="132.4" stroke="#8a8a8a" stroke-width="1.12"/>
<line x1="677.15" y1="132.4" x2="689.15" y2="132.4" stroke="#8a8a8a" stroke-width="1.12"/>
<line x1="633.15" y1="129" x2="633.15" y2="132" stroke="#333" stroke-width="1.2"/>
<line x1="635.65" y1="129" x2="635.65" y2="132" stroke="#333" stroke-width="1.2"/>
<line x1="638.15" y1="129" x2="638.15" y2="132" stroke="#333" stroke-width="1.2"/>
<line x1="680.15" y1="129" x2="680.15" y2="132" stroke="#333" stroke-width="1.2"/>
<line x1="682.65" y1="129" x2="682.65" y2="132" stroke="#333" stroke-width="1.2"/>
<line x1="685.15" y1="129" x2="685.15" y2="132" stroke="#333" stroke-width="1.2"/>
<path d="M628.45 245.3 L645.65 245.3 L645.65 240.5 L648.15 240.5" stroke="#1c1c1c" stroke-width="2.0" fill="none" stroke-linejoin="miter"/>
<path d="M690.85 245.3 L673.65 245.3 L673.65 240.5 L671.15 240.5" stroke="#1c1c1c" stroke-width="2.0" fill="none" stroke-linejoin="miter"/>
<line x1="630.65" y1="242" x2="643.65" y2="242" stroke="#8a8a8a" stroke-width="1.12"/>
<line x1="675.65" y1="242" x2="688.65" y2="242" stroke="#8a8a8a" stroke-width="1.12"/>
<path d="M648.65 240.5 L648.65 217.3 L652.05 217.3 L652.05 240.5" stroke="#333" stroke-width="1.12" fill="none" stroke-linejoin="round"/>
<path d="M654.45 240.5 L654.45 217.3 L657.85 217.3 L657.85 240.5" stroke="#333" stroke-width="1.12" fill="none" stroke-linejoin="round"/>
<path d="M660.85 240.5 L660.85 217.3 L664.25 217.3 L664.25 240.5" stroke="#333" stroke-width="1.12" fill="none" stroke-linejoin="round"/>
<path d="M666.65 240.5 L666.65 217.3 L670.05 217.3 L670.05 240.5" stroke="#333" stroke-width="1.12" fill="none" stroke-linejoin="round"/>
<path d="M648.15 240.5 Q650.35 243 652.25 240.5 M654.15 240.5 Q656.15 243 658.05 240.5 M660.65 240.5 Q662.65 243 664.45 240.5 M666.45 240.5 Q668.45 243 670.25 240.5" stroke="#1c1c1c" stroke-width="1.6" fill="none" stroke-linejoin="round"/>
<line x1="645.65" y1="137.5" x2="645.65" y2="216" stroke="#333" stroke-width="1.1"/>
<line x1="673.65" y1="137.5" x2="673.65" y2="216" stroke="#333" stroke-width="1.1"/>
<line x1="647.05" y1="137.5" x2="647.05" y2="240" stroke="#8a8a8a" stroke-width="1.12"/>
<line x1="672.25" y1="137.5" x2="672.25" y2="240" stroke="#8a8a8a" stroke-width="1.12"/>
<line x1="642.65" y1="216" x2="642.65" y2="240" stroke="#333" stroke-width="1.1"/>
<line x1="676.65" y1="216" x2="676.65" y2="240" stroke="#333" stroke-width="1.1"/>
<line x1="628.65" y1="216" x2="645.65" y2="216" stroke="#555" stroke-width="1.12"/>
<line x1="673.65" y1="216" x2="690.65" y2="216" stroke="#555" stroke-width="1.12"/>
<line x1="628.65" y1="172.5" x2="645.65" y2="172.5" stroke="#8a8a8a" stroke-width="1.12"/>
<line x1="673.65" y1="172.5" x2="690.65" y2="172.5" stroke="#8a8a8a" stroke-width="1.12"/>
<path d="M645.65 172.6 Q659.65 181 673.65 172.6" stroke="#333" stroke-width="1.1" fill="none" stroke-linejoin="round"/>
<line x1="630.15" y1="164" x2="630.15" y2="234" stroke="#aaa" stroke-width="1.12"/>
<line x1="689.15" y1="164" x2="689.15" y2="234" stroke="#aaa" stroke-width="1.12"/>
<line x1="628.15" y1="175" x2="628.15" y2="224" stroke="#bbb" stroke-width="1.12"/>
<line x1="691.15" y1="175" x2="691.15" y2="224" stroke="#bbb" stroke-width="1.12"/>
<line x1="623.15" y1="186" x2="623.15" y2="210" stroke="#555" stroke-width="1.12"/>
<line x1="696.15" y1="186" x2="696.15" y2="210" stroke="#555" stroke-width="1.12"/>
<rect x="646.95" y="186.6" width="25.4" height="22.8" rx="0" stroke="#333" stroke-width="1" fill="none" stroke-dasharray="4 2"/>
<line x1="620.65" y1="189.3" x2="646.95" y2="189.3" stroke="#333" stroke-width="1.12" stroke-dasharray="5 2"/>
<line x1="672.35" y1="189.3" x2="695.65" y2="189.3" stroke="#333" stroke-width="1.12" stroke-dasharray="5 2"/>
<line x1="620.65" y1="206.8" x2="646.95" y2="206.8" stroke="#333" stroke-width="1.12" stroke-dasharray="5 2"/>
<line x1="672.35" y1="206.8" x2="695.65" y2="206.8" stroke="#333" stroke-width="1.12" stroke-dasharray="5 2"/>
<path d="M689.65 190.5 A7 7 0 0 0 689.65 204.5" stroke="#1c1c1c" stroke-width="1.1" fill="none" stroke-linejoin="round"/>
<circle cx="635.85" cy="141.4" r="3.4" stroke="#1c1c1c" stroke-width="1.1" fill="none"/>
<line x1="630.35" y1="141.4" x2="641.35" y2="141.4" stroke="#333" stroke-width="1.12"/>
<line x1="635.85" y1="135.9" x2="635.85" y2="146.9" stroke="#333" stroke-width="1.12"/>
<circle cx="635.85" cy="164.4" r="3.4" stroke="#1c1c1c" stroke-width="1.1" fill="none"/>
<line x1="630.35" y1="164.4" x2="641.35" y2="164.4" stroke="#333" stroke-width="1.12"/>
<line x1="635.85" y1="158.9" x2="635.85" y2="169.9" stroke="#333" stroke-width="1.12"/>
<circle cx="635.85" cy="231" r="3.4" stroke="#1c1c1c" stroke-width="1.1" fill="none"/>
<line x1="630.35" y1="231" x2="641.35" y2="231" stroke="#333" stroke-width="1.12"/>
<line x1="635.85" y1="225.5" x2="635.85" y2="236.5" stroke="#333" stroke-width="1.12"/>
<circle cx="682.75" cy="141.4" r="3.4" stroke="#1c1c1c" stroke-width="1.1" fill="none"/>
<line x1="677.25" y1="141.4" x2="688.25" y2="141.4" stroke="#333" stroke-width="1.12"/>
<line x1="682.75" y1="135.9" x2="682.75" y2="146.9" stroke="#333" stroke-width="1.12"/>
<circle cx="682.75" cy="164.4" r="3.4" stroke="#1c1c1c" stroke-width="1.1" fill="none"/>
<line x1="677.25" y1="164.4" x2="688.25" y2="164.4" stroke="#333" stroke-width="1.12"/>
<line x1="682.75" y1="158.9" x2="682.75" y2="169.9" stroke="#333" stroke-width="1.12"/>
<circle cx="682.75" cy="231" r="3.4" stroke="#1c1c1c" stroke-width="1.1" fill="none"/>
<line x1="677.25" y1="231" x2="688.25" y2="231" stroke="#333" stroke-width="1.12"/>
<line x1="682.75" y1="225.5" x2="682.75" y2="236.5" stroke="#333" stroke-width="1.12"/>
<path d="M700.65 138.2 L710.15 138.2 L710.15 178 L699.65 178" stroke="#1c1c1c" stroke-width="1.9" fill="none" stroke-linejoin="miter"/>
<line x1="710.15" y1="138.2" x2="710.15" y2="178" stroke="#1c1c1c" stroke-width="2.2"/>
<line x1="649.65" y1="157.8" x2="751" y2="157.8" stroke="#1c1c1c" stroke-width="1.12" stroke-dasharray="12 2.5 3 2.5"/>
<line x1="569.8" y1="197.6" x2="577.2" y2="197.6" stroke="#1c1c1c" stroke-width="1.12"/>
<line x1="592.4" y1="197.6" x2="712.4" y2="197.6" stroke="#1c1c1c" stroke-width="1.12" stroke-dasharray="16 2.5 3 2.5"/>
<line x1="729.7" y1="197.6" x2="751" y2="197.6" stroke="#1c1c1c" stroke-width="1.12"/>
<line x1="659.65" y1="58.6" x2="709.9" y2="58.6" stroke="#1c1c1c" stroke-width="1.12"/>
<polygon points="659.65,58.6 666.95,56.6 666.95,60.6" fill="#1c1c1c"/>
<polygon points="709.9,58.6 702.6,56.6 702.6,60.6" fill="#1c1c1c"/>
<text x="684.4" y="56.2" font-size="12.0" text-anchor="middle" fill="#1c1c1c">AD</text>
<line x1="709.9" y1="55.2" x2="709.9" y2="136.2" stroke="#1c1c1c" stroke-width="1.12"/>
<line x1="619.4" y1="74.8" x2="698.7" y2="74.8" stroke="#1c1c1c" stroke-width="1.12"/>
<polygon points="619.4,74.8 626.7,72.8 626.7,76.8" fill="#1c1c1c"/>
<polygon points="698.7,74.8 691.4,72.8 691.4,76.8" fill="#1c1c1c"/>
<text x="660" y="73.6" font-size="12.0" text-anchor="middle" fill="#1c1c1c">120</text>
<line x1="619.4" y1="72.7" x2="619.4" y2="183" stroke="#666" stroke-width="1.12"/>
<line x1="698.7" y1="72.7" x2="698.7" y2="132" stroke="#555" stroke-width="1.12"/>
<line x1="619.4" y1="91.6" x2="646.4" y2="91.6" stroke="#1c1c1c" stroke-width="1.12"/>
<polygon points="619.4,91.6 626.7,89.6 626.7,93.6" fill="#1c1c1c"/>
<polygon points="646.4,91.6 639.1,89.6 639.1,93.6" fill="#1c1c1c"/>
<text x="632.9" y="89.6" font-size="12.0" text-anchor="middle" fill="#1c1c1c">35</text>
<line x1="671.7" y1="91.6" x2="698.7" y2="91.6" stroke="#1c1c1c" stroke-width="1.12"/>
<polygon points="671.7,91.6 679,89.6 679,93.6" fill="#1c1c1c"/>
<polygon points="698.7,91.6 691.4,89.6 691.4,93.6" fill="#1c1c1c"/>
<text x="684.8" y="89.6" font-size="12.0" text-anchor="middle" fill="#1c1c1c">35</text>
<line x1="646.4" y1="90.6" x2="646.4" y2="128" stroke="#8a8a8a" stroke-width="1.12"/>
<line x1="671.7" y1="90.6" x2="671.7" y2="128" stroke="#8a8a8a" stroke-width="1.12"/>
<line x1="550.2" y1="127.1" x2="631" y2="127.1" stroke="#1c1c1c" stroke-width="1.12"/>
<line x1="550.2" y1="244.9" x2="595.5" y2="244.9" stroke="#1c1c1c" stroke-width="1.12"/>
<line x1="612" y1="244.9" x2="628" y2="244.9" stroke="#1c1c1c" stroke-width="1.12"/>
<line x1="554.3" y1="127.1" x2="554.3" y2="244.9" stroke="#1c1c1c" stroke-width="1.12"/>
<polygon points="554.3,127.1 552.3,134.4 556.3,134.4" fill="#1c1c1c"/>
<polygon points="554.3,244.9 552.3,237.6 556.3,237.6" fill="#1c1c1c"/>
<text x="552.4" y="185.1" font-size="12.0" text-anchor="middle" fill="#1c1c1c" transform="rotate(-90 552.4 185.1)">182.5</text>
<line x1="573.2" y1="127.1" x2="573.2" y2="197.6" stroke="#1c1c1c" stroke-width="1.12"/>
<polygon points="573.2,127.1 571.2,134.4 575.2,134.4" fill="#1c1c1c"/>
<polygon points="573.2,197.6 571.2,190.3 575.2,190.3" fill="#1c1c1c"/>
<text x="570.4" y="161.5" font-size="12.0" text-anchor="middle" fill="#1c1c1c" transform="rotate(-90 570.4 161.5)">110</text>
<line x1="573.2" y1="197.6" x2="573.2" y2="244.9" stroke="#1c1c1c" stroke-width="1.12"/>
<polygon points="573.2,197.6 571.2,204.9 575.2,204.9" fill="#1c1c1c"/>
<polygon points="573.2,244.9 571.2,237.6 575.2,237.6" fill="#1c1c1c"/>
<text x="571" y="220.8" font-size="12.0" text-anchor="middle" fill="#1c1c1c" transform="rotate(-90 571 220.8)">72.5</text>
<line x1="589" y1="141.2" x2="634.6" y2="141.2" stroke="#555" stroke-width="1.12"/>
<line x1="585.7" y1="164.9" x2="634.6" y2="164.9" stroke="#555" stroke-width="1.12"/>
<line x1="585.7" y1="231" x2="631.2" y2="231" stroke="#555" stroke-width="1.12"/>
<line x1="592.4" y1="141.2" x2="592.4" y2="164.9" stroke="#1c1c1c" stroke-width="1.12"/>
<polygon points="592.4,141.2 590.4,148.5 594.4,148.5" fill="#1c1c1c"/>
<polygon points="592.4,164.9 590.4,157.6 594.4,157.6" fill="#1c1c1c"/>
<text x="589" y="153" font-size="12.0" text-anchor="middle" fill="#1c1c1c" transform="rotate(-90 589 153)">37.5</text>
<line x1="592.4" y1="164.9" x2="592.4" y2="231" stroke="#1c1c1c" stroke-width="1.12"/>
<polygon points="592.4,164.9 590.4,172.2 594.4,172.2" fill="#1c1c1c"/>
<polygon points="592.4,231 590.4,223.7 594.4,223.7" fill="#1c1c1c"/>
<text x="589.3" y="197" font-size="12.0" text-anchor="middle" fill="#1c1c1c" transform="rotate(-90 589.3 197)">102</text>
<text x="609" y="248" font-size="12.0" text-anchor="middle" fill="#1c1c1c" transform="rotate(-90 609 248)">9</text>
<line x1="612" y1="215.5" x2="612" y2="226.5" stroke="#1c1c1c" stroke-width="1.12"/>
<polygon points="612,226.5 610,219.2 614,219.2" fill="#1c1c1c"/>
<line x1="612" y1="234.9" x2="612" y2="252.6" stroke="#1c1c1c" stroke-width="1.12"/>
<polygon points="612,234.9 610,242.2 614,242.2" fill="#1c1c1c"/>
<line x1="608.5" y1="226.5" x2="626" y2="226.5" stroke="#444" stroke-width="1.12"/>
<line x1="608.5" y1="234.9" x2="628" y2="234.9" stroke="#444" stroke-width="1.12"/>
<line x1="712" y1="158.1" x2="751" y2="158.1" stroke="#1c1c1c" stroke-width="1.12"/>
<line x1="746" y1="158.1" x2="746" y2="197.6" stroke="#1c1c1c" stroke-width="1.12"/>
<polygon points="746,158.1 744,165.4 748,165.4" fill="#1c1c1c"/>
<polygon points="746,197.6 744,190.3 748,190.3" fill="#1c1c1c"/>
<text x="742.8" y="179" font-size="12.0" text-anchor="middle" fill="#1c1c1c" transform="rotate(-90 742.8 179)">62.2</text>
<line x1="702.3" y1="172.6" x2="729.7" y2="172.6" stroke="#666" stroke-width="1.12"/>
<line x1="698.4" y1="224" x2="732" y2="224" stroke="#1c1c1c" stroke-width="1.12"/>
<line x1="727" y1="172.6" x2="727" y2="224" stroke="#1c1c1c" stroke-width="1.12"/>
<polygon points="727,172.6 725,179.9 729,179.9" fill="#1c1c1c"/>
<polygon points="727,224 725,216.7 729,216.7" fill="#1c1c1c"/>
<text x="725.1" y="202.3" font-size="12.0" text-anchor="middle" fill="#1c1c1c" transform="rotate(-90 725.1 202.3)">75</text>
<text x="725.3" y="186.4" font-size="8.6" text-anchor="middle" fill="#1c1c1c" transform="rotate(-90 725.3 186.4)">h8</text>
<line x1="716.7" y1="214.5" x2="721.3" y2="214.5" stroke="#1c1c1c" stroke-width="1.1"/>
<line x1="717.85" y1="212.51" x2="720.15" y2="216.49" stroke="#1c1c1c" stroke-width="1.1"/>
<line x1="720.15" y1="212.51" x2="717.85" y2="216.49" stroke="#1c1c1c" stroke-width="1.1"/>
<line x1="646.4" y1="259.4" x2="672.4" y2="259.4" stroke="#1c1c1c" stroke-width="1.12"/>
<polygon points="646.4,259.4 653.7,257.4 653.7,261.4" fill="#1c1c1c"/>
<polygon points="672.4,259.4 665.1,257.4 665.1,261.4" fill="#1c1c1c"/>
<text x="659.6" y="257" font-size="12.0" text-anchor="middle" fill="#1c1c1c">46</text>
<line x1="646.4" y1="246" x2="646.4" y2="262" stroke="#1c1c1c" stroke-width="1.12"/>
<line x1="672.4" y1="246" x2="672.4" y2="262" stroke="#1c1c1c" stroke-width="1.12"/>
<line x1="635.6" y1="277.3" x2="683.6" y2="277.3" stroke="#1c1c1c" stroke-width="1.12"/>
<polygon points="635.6,277.3 642.9,275.3 642.9,279.3" fill="#1c1c1c"/>
<polygon points="683.6,277.3 676.3,275.3 676.3,279.3" fill="#1c1c1c"/>
<text x="659.6" y="275.2" font-size="12.0" text-anchor="middle" fill="#1c1c1c">76</text>
<line x1="635.6" y1="247.6" x2="635.6" y2="279.6" stroke="#1c1c1c" stroke-width="1.12" stroke-dasharray="9 2 2 2"/>
<line x1="683.6" y1="247.6" x2="683.6" y2="279.6" stroke="#1c1c1c" stroke-width="1.12" stroke-dasharray="9 2 2 2"/>
<line x1="628.9" y1="293.1" x2="690.3" y2="293.1" stroke="#1c1c1c" stroke-width="1.12"/>
<polygon points="628.9,293.1 636.2,291.1 636.2,295.1" fill="#1c1c1c"/>
<polygon points="690.3,293.1 683,291.1 683,295.1" fill="#1c1c1c"/>
<text x="659.6" y="291.4" font-size="12.0" text-anchor="middle" fill="#1c1c1c">94</text>
<line x1="628.9" y1="245.9" x2="628.9" y2="296.5" stroke="#1c1c1c" stroke-width="1.12"/>
<line x1="690.3" y1="245.9" x2="690.3" y2="296.5" stroke="#1c1c1c" stroke-width="1.12"/>
<line x1="621.1" y1="232.4" x2="621.1" y2="313.4" stroke="#1c1c1c" stroke-width="1.12"/>
<line x1="623.5" y1="232.4" x2="623.5" y2="313.4" stroke="#555" stroke-width="1.12"/>
<line x1="695.4" y1="224" x2="695.4" y2="313.4" stroke="#555" stroke-width="1.12"/>
<line x1="697.7" y1="224" x2="697.7" y2="313.4" stroke="#1c1c1c" stroke-width="1.12"/>
<line x1="623.5" y1="310" x2="659.65" y2="310" stroke="#1c1c1c" stroke-width="1.12"/>
<polygon points="623.5,310 630.8,308 630.8,312" fill="#1c1c1c"/>
<polygon points="659.65,310 652.35,308 652.35,312" fill="#1c1c1c"/>
<line x1="659.65" y1="310" x2="695.4" y2="310" stroke="#1c1c1c" stroke-width="1.12"/>
<polygon points="659.65,310 666.95,308 666.95,312" fill="#1c1c1c"/>
<polygon points="695.4,310 688.1,308 688.1,312" fill="#1c1c1c"/>
<text x="641.4" y="306.6" font-size="12.0" text-anchor="middle" fill="#1c1c1c">53</text>
<text x="676.8" y="306.6" font-size="12.0" text-anchor="middle" fill="#1c1c1c">53</text>
<line x1="596.8" y1="310" x2="621.1" y2="310" stroke="#1c1c1c" stroke-width="1.12"/>
<polygon points="621.1,310 613.8,308 613.8,312" fill="#1c1c1c"/>
<text x="606.6" y="306.6" font-size="12.0" text-anchor="middle" fill="#1c1c1c">3</text>
<line x1="697.7" y1="310" x2="717.3" y2="310" stroke="#1c1c1c" stroke-width="1.12"/>
<polygon points="697.7,310 705,308 705,312" fill="#1c1c1c"/>
<text x="711.6" y="306.6" font-size="12.0" text-anchor="middle" fill="#1c1c1c">3</text>
<line x1="659.65" y1="55" x2="659.65" y2="127" stroke="#1c1c1c" stroke-width="1.12"/>
<line x1="659.65" y1="127" x2="659.65" y2="312" stroke="#1c1c1c" stroke-width="1.12" stroke-dasharray="14 2.5 3 2.5"/>
<line x1="659.65" y1="296" x2="659.65" y2="312" stroke="#1c1c1c" stroke-width="1.12"/>
<rect x="649" y="63.6" width="22" height="9.4" fill="#fff"/>
<text x="660" y="73.6" font-size="12.0" text-anchor="middle" fill="#1c1c1c">120</text>
<rect x="651.6" y="247" width="16" height="9.4" fill="#fff"/>
<text x="659.6" y="257" font-size="12.0" text-anchor="middle" fill="#1c1c1c">46</text>
<rect x="651.6" y="265.2" width="16" height="9.4" fill="#fff"/>
<text x="659.6" y="275.2" font-size="12.0" text-anchor="middle" fill="#1c1c1c">76</text>
<rect x="651.6" y="281.4" width="16" height="9.4" fill="#fff"/>
<text x="659.6" y="291.4" font-size="12.0" text-anchor="middle" fill="#1c1c1c">94</text>
<g transform="translate(-0.2 282.2)">
<circle cx="659.65" cy="158.4" r="44.1" stroke="#1c1c1c" stroke-width="1.1" fill="none"/>
<path d="M621.08 179.78 A44.1 44.1 0 1 1 703.69 156.09" stroke="#1c1c1c" stroke-width="2.3" fill="none" stroke-linejoin="round"/>
<g>
<path d="M628.45 127.3 L628.45 163.3 L624.15 163.3 L624.15 174.6 L621.65 174.6 L621.65 184.2 L619.75 184.2 L619.75 212 L621.65 212 L621.65 224.3 L624.15 224.3 L624.15 234.8 L628.45 234.8 L628.45 245.3 L690.85 245.3 L690.85 234.8 L695.15 234.8 L695.15 224.3 L697.65 224.3 L697.65 212 L699.55 212 L699.55 184.2 L697.65 184.2 L697.65 174.6 L695.15 174.6 L695.15 163.3 L690.85 163.3 L690.85 127.3 Z" fill="#fff" stroke="none"/>
</g>
<path d="M628.45 127.3 L628.45 163.3 L624.15 163.3 L624.15 174.6 L621.65 174.6 L621.65 184.2 L619.75 184.2 L619.75 212 L621.65 212 L621.65 224.3 L624.15 224.3 L624.15 234.8 L628.45 234.8 L628.45 245.3" stroke="#1c1c1c" stroke-width="1.4" fill="none" stroke-linejoin="miter"/>
<path d="M628.45 127.3 L628.45 163.3" stroke="#1c1c1c" stroke-width="2.3" fill="none" stroke-linejoin="round"/>
<path d="M690.95 127.3 L690.95 162 L693.95 162 L693.95 157.5" stroke="#1c1c1c" stroke-width="2.2" fill="none" stroke-linejoin="miter"/>
<path d="M690.95 245.3 L690.95 233.8" stroke="#1c1c1c" stroke-width="1.6" fill="none" stroke-linejoin="round"/>
<line x1="697.95" y1="158" x2="697.95" y2="236" stroke="#777" stroke-width="1.12"/>
<line x1="690.95" y1="165" x2="690.95" y2="231" stroke="#999" stroke-width="1.12"/>
<line x1="693.95" y1="165" x2="693.95" y2="231" stroke="#999" stroke-width="1.12"/>
<line x1="690.95" y1="168" x2="693.95" y2="168" stroke="#aaa" stroke-width="1.12"/>
<line x1="690.95" y1="173" x2="693.95" y2="173" stroke="#aaa" stroke-width="1.12"/>
<line x1="690.95" y1="178" x2="693.95" y2="178" stroke="#aaa" stroke-width="1.12"/>
<line x1="690.95" y1="183" x2="693.95" y2="183" stroke="#aaa" stroke-width="1.12"/>
<line x1="690.95" y1="188" x2="693.95" y2="188" stroke="#aaa" stroke-width="1.12"/>
<line x1="690.95" y1="193" x2="693.95" y2="193" stroke="#aaa" stroke-width="1.12"/>
<line x1="690.95" y1="198" x2="693.95" y2="198" stroke="#aaa" stroke-width="1.12"/>
<line x1="690.95" y1="203" x2="693.95" y2="203" stroke="#aaa" stroke-width="1.12"/>
<line x1="690.95" y1="208" x2="693.95" y2="208" stroke="#aaa" stroke-width="1.12"/>
<line x1="690.95" y1="213" x2="693.95" y2="213" stroke="#aaa" stroke-width="1.12"/>
<line x1="690.95" y1="218" x2="693.95" y2="218" stroke="#aaa" stroke-width="1.12"/>
<line x1="690.95" y1="223" x2="693.95" y2="223" stroke="#aaa" stroke-width="1.12"/>
<line x1="690.95" y1="228" x2="693.95" y2="228" stroke="#aaa" stroke-width="1.12"/>
<path d="M624.15 163.3 L624.15 174.6 L621.65 174.6 L621.65 184.2 L619.75 184.2 L619.75 212 L621.65 212 L621.65 224.3 L624.15 224.3 L624.15 234.8 L628.45 234.8 L628.45 245.3" stroke="#1c1c1c" stroke-width="2.5" fill="none" stroke-linejoin="miter"/>
<line x1="628.45" y1="127.6" x2="642.15" y2="127.6" stroke="#1c1c1c" stroke-width="2.6"/>
<line x1="676.15" y1="127.6" x2="690.85" y2="127.6" stroke="#1c1c1c" stroke-width="2.6"/>
<path d="M642.65 127.1 L642.65 130 M675.65 127.1 L675.65 130" stroke="#1c1c1c" stroke-width="1.4" fill="none" stroke-linejoin="round"/>
<rect x="643.05" y="127.8" width="33" height="8.6" rx="3.4" stroke="#333" stroke-width="1.2" fill="none"/>
<line x1="645.65" y1="134.4" x2="674.15" y2="134.4" stroke="#8a8a8a" stroke-width="1.12"/>
<line x1="630.15" y1="132.4" x2="641.15" y2="132.4" stroke="#8a8a8a" stroke-width="1.12"/>
<line x1="677.15" y1="132.4" x2="689.15" y2="132.4" stroke="#8a8a8a" stroke-width="1.12"/>
<line x1="633.15" y1="129" x2="633.15" y2="132" stroke="#333" stroke-width="1.2"/>
<line x1="635.65" y1="129" x2="635.65" y2="132" stroke="#333" stroke-width="1.2"/>
<line x1="638.15" y1="129" x2="638.15" y2="132" stroke="#333" stroke-width="1.2"/>
<line x1="680.15" y1="129" x2="680.15" y2="132" stroke="#333" stroke-width="1.2"/>
<line x1="682.65" y1="129" x2="682.65" y2="132" stroke="#333" stroke-width="1.2"/>
<line x1="685.15" y1="129" x2="685.15" y2="132" stroke="#333" stroke-width="1.2"/>
<path d="M628.45 245.3 L645.65 245.3 L645.65 240.5 L648.15 240.5" stroke="#1c1c1c" stroke-width="2.0" fill="none" stroke-linejoin="miter"/>
<path d="M690.85 245.3 L673.65 245.3 L673.65 240.5 L671.15 240.5" stroke="#1c1c1c" stroke-width="2.0" fill="none" stroke-linejoin="miter"/>
<line x1="630.65" y1="242" x2="643.65" y2="242" stroke="#8a8a8a" stroke-width="1.12"/>
<line x1="675.65" y1="242" x2="688.65" y2="242" stroke="#8a8a8a" stroke-width="1.12"/>
<path d="M648.65 240.5 L648.65 217.3 L652.05 217.3 L652.05 240.5" stroke="#333" stroke-width="1.12" fill="none" stroke-linejoin="round"/>
<path d="M654.45 240.5 L654.45 217.3 L657.85 217.3 L657.85 240.5" stroke="#333" stroke-width="1.12" fill="none" stroke-linejoin="round"/>
<path d="M660.85 240.5 L660.85 217.3 L664.25 217.3 L664.25 240.5" stroke="#333" stroke-width="1.12" fill="none" stroke-linejoin="round"/>
<path d="M666.65 240.5 L666.65 217.3 L670.05 217.3 L670.05 240.5" stroke="#333" stroke-width="1.12" fill="none" stroke-linejoin="round"/>
<path d="M648.15 240.5 Q650.35 243 652.25 240.5 M654.15 240.5 Q656.15 243 658.05 240.5 M660.65 240.5 Q662.65 243 664.45 240.5 M666.45 240.5 Q668.45 243 670.25 240.5" stroke="#1c1c1c" stroke-width="1.6" fill="none" stroke-linejoin="round"/>
<line x1="645.65" y1="137.5" x2="645.65" y2="216" stroke="#333" stroke-width="1.1"/>
<line x1="673.65" y1="137.5" x2="673.65" y2="216" stroke="#333" stroke-width="1.1"/>
<line x1="647.05" y1="137.5" x2="647.05" y2="240" stroke="#8a8a8a" stroke-width="1.12"/>
<line x1="672.25" y1="137.5" x2="672.25" y2="240" stroke="#8a8a8a" stroke-width="1.12"/>
<line x1="642.65" y1="216" x2="642.65" y2="240" stroke="#333" stroke-width="1.1"/>
<line x1="676.65" y1="216" x2="676.65" y2="240" stroke="#333" stroke-width="1.1"/>
<line x1="628.65" y1="216" x2="645.65" y2="216" stroke="#555" stroke-width="1.12"/>
<line x1="673.65" y1="216" x2="690.65" y2="216" stroke="#555" stroke-width="1.12"/>
<line x1="628.65" y1="172.5" x2="645.65" y2="172.5" stroke="#8a8a8a" stroke-width="1.12"/>
<line x1="673.65" y1="172.5" x2="690.65" y2="172.5" stroke="#8a8a8a" stroke-width="1.12"/>
<path d="M645.65 172.6 Q659.65 181 673.65 172.6" stroke="#333" stroke-width="1.1" fill="none" stroke-linejoin="round"/>
<line x1="630.15" y1="164" x2="630.15" y2="234" stroke="#aaa" stroke-width="1.12"/>
<line x1="689.15" y1="164" x2="689.15" y2="234" stroke="#aaa" stroke-width="1.12"/>
<line x1="628.15" y1="175" x2="628.15" y2="224" stroke="#bbb" stroke-width="1.12"/>
<line x1="691.15" y1="175" x2="691.15" y2="224" stroke="#bbb" stroke-width="1.12"/>
<line x1="623.15" y1="186" x2="623.15" y2="210" stroke="#555" stroke-width="1.12"/>
<line x1="696.15" y1="186" x2="696.15" y2="210" stroke="#555" stroke-width="1.12"/>
<rect x="646.95" y="186.6" width="25.4" height="22.8" rx="0" stroke="#333" stroke-width="1" fill="none" stroke-dasharray="4 2"/>
<line x1="620.65" y1="189.3" x2="646.95" y2="189.3" stroke="#333" stroke-width="1.12" stroke-dasharray="5 2"/>
<line x1="672.35" y1="189.3" x2="695.65" y2="189.3" stroke="#333" stroke-width="1.12" stroke-dasharray="5 2"/>
<line x1="620.65" y1="206.8" x2="646.95" y2="206.8" stroke="#333" stroke-width="1.12" stroke-dasharray="5 2"/>
<line x1="672.35" y1="206.8" x2="695.65" y2="206.8" stroke="#333" stroke-width="1.12" stroke-dasharray="5 2"/>
<path d="M689.65 190.5 A7 7 0 0 0 689.65 204.5" stroke="#1c1c1c" stroke-width="1.1" fill="none" stroke-linejoin="round"/>
<circle cx="635.85" cy="141.4" r="3.4" stroke="#1c1c1c" stroke-width="1.1" fill="none"/>
<line x1="630.35" y1="141.4" x2="641.35" y2="141.4" stroke="#333" stroke-width="1.12"/>
<line x1="635.85" y1="135.9" x2="635.85" y2="146.9" stroke="#333" stroke-width="1.12"/>
<circle cx="635.85" cy="164.4" r="3.4" stroke="#1c1c1c" stroke-width="1.1" fill="none"/>
<line x1="630.35" y1="164.4" x2="641.35" y2="164.4" stroke="#333" stroke-width="1.12"/>
<line x1="635.85" y1="158.9" x2="635.85" y2="169.9" stroke="#333" stroke-width="1.12"/>
<circle cx="635.85" cy="231" r="3.4" stroke="#1c1c1c" stroke-width="1.1" fill="none"/>
<line x1="630.35" y1="231" x2="641.35" y2="231" stroke="#333" stroke-width="1.12"/>
<line x1="635.85" y1="225.5" x2="635.85" y2="236.5" stroke="#333" stroke-width="1.12"/>
<circle cx="682.75" cy="141.4" r="3.4" stroke="#1c1c1c" stroke-width="1.1" fill="none"/>
<line x1="677.25" y1="141.4" x2="688.25" y2="141.4" stroke="#333" stroke-width="1.12"/>
<line x1="682.75" y1="135.9" x2="682.75" y2="146.9" stroke="#333" stroke-width="1.12"/>
<circle cx="682.75" cy="164.4" r="3.4" stroke="#1c1c1c" stroke-width="1.1" fill="none"/>
<line x1="677.25" y1="164.4" x2="688.25" y2="164.4" stroke="#333" stroke-width="1.12"/>
<line x1="682.75" y1="158.9" x2="682.75" y2="169.9" stroke="#333" stroke-width="1.12"/>
<circle cx="682.75" cy="231" r="3.4" stroke="#1c1c1c" stroke-width="1.1" fill="none"/>
<line x1="677.25" y1="231" x2="688.25" y2="231" stroke="#333" stroke-width="1.12"/>
<line x1="682.75" y1="225.5" x2="682.75" y2="236.5" stroke="#333" stroke-width="1.12"/>
<line x1="659.65" y1="55" x2="659.65" y2="127" stroke="#1c1c1c" stroke-width="1.12"/>
<line x1="659.65" y1="127" x2="659.65" y2="246" stroke="#1c1c1c" stroke-width="1.12" stroke-dasharray="14 2.5 3 2.5"/>
<line x1="659.65" y1="250" x2="659.65" y2="316.5" stroke="#1c1c1c" stroke-width="1.12"/>
<line x1="568.8" y1="157.8" x2="614" y2="157.8" stroke="#1c1c1c" stroke-width="1.12"/>
<line x1="614" y1="157.8" x2="675.65" y2="157.8" stroke="#1c1c1c" stroke-width="1.12" stroke-dasharray="12 2.5 3 2.5"/>
<line x1="589" y1="197.9" x2="619.65" y2="197.9" stroke="#1c1c1c" stroke-width="1.12"/>
<line x1="619.65" y1="197.9" x2="699.65" y2="197.9" stroke="#444" stroke-width="1.12" stroke-dasharray="12 2.5 3 2.5"/>
<line x1="659.65" y1="58.6" x2="709.9" y2="58.6" stroke="#1c1c1c" stroke-width="1.12"/>
<polygon points="659.65,58.6 666.95,56.6 666.95,60.6" fill="#1c1c1c"/>
<polygon points="709.9,58.6 702.6,56.6 702.6,60.6" fill="#1c1c1c"/>
<text x="685.6" y="56.4" font-size="12.0" text-anchor="middle" fill="#1c1c1c">AD</text>
<line x1="709.9" y1="54.2" x2="709.9" y2="136" stroke="#1c1c1c" stroke-width="1.12"/>
<line x1="619.4" y1="74.6" x2="698.7" y2="74.6" stroke="#1c1c1c" stroke-width="1.12"/>
<polygon points="619.4,74.6 626.7,72.6 626.7,76.6" fill="#1c1c1c"/>
<polygon points="698.7,74.6 691.4,72.6 691.4,76.6" fill="#1c1c1c"/>
<rect x="648.2" y="63.4" width="22" height="9.4" fill="#fff"/>
<text x="659.2" y="73.4" font-size="12.0" text-anchor="middle" fill="#1c1c1c">120</text>
<line x1="619.4" y1="70.7" x2="619.4" y2="183" stroke="#666" stroke-width="1.12"/>
<line x1="698.7" y1="70.7" x2="698.7" y2="134" stroke="#555" stroke-width="1.12"/>
<line x1="619.4" y1="91.8" x2="646.4" y2="91.8" stroke="#1c1c1c" stroke-width="1.12"/>
<polygon points="619.4,91.8 626.7,89.8 626.7,93.8" fill="#1c1c1c"/>
<polygon points="646.4,91.8 639.1,89.8 639.1,93.8" fill="#1c1c1c"/>
<text x="632.9" y="89" font-size="12.0" text-anchor="middle" fill="#1c1c1c">35</text>
<line x1="671.7" y1="91.8" x2="698.7" y2="91.8" stroke="#1c1c1c" stroke-width="1.12"/>
<polygon points="671.7,91.8 679,89.8 679,93.8" fill="#1c1c1c"/>
<polygon points="698.7,91.8 691.4,89.8 691.4,93.8" fill="#1c1c1c"/>
<text x="684.2" y="89" font-size="12.0" text-anchor="middle" fill="#1c1c1c">35</text>
<line x1="646.4" y1="88.6" x2="646.4" y2="128" stroke="#8a8a8a" stroke-width="1.12"/>
<line x1="671.7" y1="88.6" x2="671.7" y2="128" stroke="#8a8a8a" stroke-width="1.12"/>
<line x1="549.6" y1="113.2" x2="665.65" y2="113.2" stroke="#1c1c1c" stroke-width="1.12"/>
<line x1="549.6" y1="245.4" x2="628" y2="245.4" stroke="#1c1c1c" stroke-width="1.12"/>
<line x1="554.3" y1="113.2" x2="554.3" y2="245.4" stroke="#1c1c1c" stroke-width="1.12"/>
<polygon points="554.3,113.2 552.3,120.5 556.3,120.5" fill="#1c1c1c"/>
<polygon points="554.3,245.4 552.3,238.1 556.3,238.1" fill="#1c1c1c"/>
<text x="552.2" y="181.3" font-size="12.0" text-anchor="middle" fill="#1c1c1c" transform="rotate(-90 552.2 181.3)">H</text>
<line x1="573.2" y1="157.8" x2="573.2" y2="245.4" stroke="#1c1c1c" stroke-width="1.12"/>
<polygon points="573.2,157.8 571.2,165.1 575.2,165.1" fill="#1c1c1c"/>
<polygon points="573.2,245.4 571.2,238.1 575.2,238.1" fill="#1c1c1c"/>
<text x="571.2" y="200.8" font-size="12.0" text-anchor="middle" fill="#1c1c1c" transform="rotate(-90 571.2 200.8)">134.7</text>
<line x1="592.4" y1="157.8" x2="592.4" y2="197.9" stroke="#1c1c1c" stroke-width="1.12"/>
<polygon points="592.4,157.8 590.4,165.1 594.4,165.1" fill="#1c1c1c"/>
<polygon points="592.4,197.9 590.4,190.6 594.4,190.6" fill="#1c1c1c"/>
<text x="589.8" y="178.6" font-size="12.0" text-anchor="middle" fill="#1c1c1c" transform="rotate(-90 589.8 178.6)">62.2</text>
<path d="M700 138.4 L710 138.4 L710 156.5" stroke="#1c1c1c" stroke-width="1.6" fill="none" stroke-linejoin="miter"/>
<line x1="710" y1="138.4" x2="710" y2="156.5" stroke="#1c1c1c" stroke-width="2.0"/>
<path d="M694 162.5 L696.5 161.5 L697.5 156.6 L722 156.6 Q727 156.6 727.4 151.5" stroke="#1c1c1c" stroke-width="1.6" fill="none" stroke-linejoin="round"/>
<path d="M693 232.5 Q694 237.8 699 238.4 L722 238.4 Q727 238.6 727.4 244" stroke="#1c1c1c" stroke-width="1.8" fill="none" stroke-linejoin="round"/>
<rect x="727.4" y="135.2" width="10" height="125.1" fill="#fff"/>
<path d="M727.4 151.5 L727.4 135.2 L737.4 135.2 L737.4 260.3 L727.4 260.3 L727.4 244" stroke="#1c1c1c" stroke-width="2.1" fill="none" stroke-linejoin="miter"/>
<line x1="727.7" y1="151.5" x2="727.7" y2="244" stroke="#888" stroke-width="1.12"/>
<line x1="733" y1="157" x2="733" y2="237" stroke="#555" stroke-width="1.12" stroke-dasharray="10 2 2 2"/>
<line x1="739.2" y1="156.6" x2="757.8" y2="156.6" stroke="#1c1c1c" stroke-width="1.12"/>
<line x1="739.2" y1="236.9" x2="757.8" y2="236.9" stroke="#1c1c1c" stroke-width="1.12"/>
<line x1="752.7" y1="156.6" x2="752.7" y2="236.9" stroke="#1c1c1c" stroke-width="1.12"/>
<polygon points="752.7,156.6 750.7,163.9 754.7,163.9" fill="#1c1c1c"/>
<polygon points="752.7,236.9 750.7,229.6 754.7,229.6" fill="#1c1c1c"/>
<text transform="rotate(-90 751.4 197.6)" x="751.4" y="197.6" font-size="12.1" text-anchor="middle" fill="#1c1c1c">115 <tspan font-size="9">H8</tspan></text>
<line x1="739.2" y1="135.3" x2="773.7" y2="135.3" stroke="#1c1c1c" stroke-width="1.12"/>
<line x1="739.2" y1="260.3" x2="773.7" y2="260.3" stroke="#1c1c1c" stroke-width="1.12"/>
<line x1="769.6" y1="135.3" x2="769.6" y2="260.3" stroke="#1c1c1c" stroke-width="1.12"/>
<polygon points="769.6,135.3 767.6,142.6 771.6,142.6" fill="#1c1c1c"/>
<polygon points="769.6,260.3 767.6,253 771.6,253" fill="#1c1c1c"/>
<text x="768" y="197.6" font-size="12.0" text-anchor="middle" fill="#1c1c1c" transform="rotate(-90 768 197.6)">180</text>
<line x1="727.4" y1="263" x2="727.4" y2="298" stroke="#1c1c1c" stroke-width="1.12" stroke-dasharray="8 2.5"/>
<line x1="733" y1="262.5" x2="733" y2="281" stroke="#8a8a8a" stroke-width="1.12"/>
<line x1="737.4" y1="262.5" x2="737.4" y2="314" stroke="#1c1c1c" stroke-width="1.12"/>
<line x1="711" y1="276.9" x2="733" y2="276.9" stroke="#1c1c1c" stroke-width="1.12"/>
<polygon points="733,276.9 725.7,274.9 725.7,278.9" fill="#1c1c1c"/>
<line x1="737.4" y1="276.9" x2="748" y2="276.9" stroke="#1c1c1c" stroke-width="1.12"/>
<polygon points="737.4,276.9 744.7,274.9 744.7,278.9" fill="#1c1c1c"/>
<text x="718" y="273.9" font-size="12.0" text-anchor="middle" fill="#1c1c1c">5</text>
<line x1="703" y1="294.7" x2="727.4" y2="294.7" stroke="#1c1c1c" stroke-width="1.12"/>
<polygon points="727.4,294.7 720.1,292.7 720.1,296.7" fill="#1c1c1c"/>
<line x1="737.4" y1="294.7" x2="747" y2="294.7" stroke="#1c1c1c" stroke-width="1.12"/>
<polygon points="737.4,294.7 744.7,292.7 744.7,296.7" fill="#1c1c1c"/>
<text x="712" y="292.3" font-size="12.0" text-anchor="middle" fill="#1c1c1c">11</text>
<line x1="659.65" y1="310.9" x2="737.4" y2="310.9" stroke="#1c1c1c" stroke-width="1.12"/>
<polygon points="659.65,310.9 666.95,308.9 666.95,312.9" fill="#1c1c1c"/>
<polygon points="737.4,310.9 730.1,308.9 730.1,312.9" fill="#1c1c1c"/>
<text x="697" y="308.3" font-size="12.0" text-anchor="middle" fill="#1c1c1c">116</text>
</g>
<g transform="translate(2.7 566.2)">
<circle cx="659.65" cy="158.4" r="44.1" stroke="#1c1c1c" stroke-width="1.1" fill="none"/>
<path d="M621.08 179.78 A44.1 44.1 0 1 1 703.69 156.09" stroke="#1c1c1c" stroke-width="2.3" fill="none" stroke-linejoin="round"/>
<g>
<path d="M628.45 127.3 L628.45 163.3 L624.15 163.3 L624.15 174.6 L621.65 174.6 L621.65 184.2 L619.75 184.2 L619.75 212 L621.65 212 L621.65 224.3 L624.15 224.3 L624.15 234.8 L628.45 234.8 L628.45 245.3 L690.85 245.3 L690.85 234.8 L695.15 234.8 L695.15 224.3 L697.65 224.3 L697.65 212 L699.55 212 L699.55 184.2 L697.65 184.2 L697.65 174.6 L695.15 174.6 L695.15 163.3 L690.85 163.3 L690.85 127.3 Z" fill="#fff" stroke="none"/>
</g>
<path d="M628.45 127.3 L628.45 163.3 L624.15 163.3 L624.15 174.6 L621.65 174.6 L621.65 184.2 L619.75 184.2 L619.75 212 L621.65 212 L621.65 224.3 L624.15 224.3 L624.15 234.8 L628.45 234.8 L628.45 245.3" stroke="#1c1c1c" stroke-width="1.4" fill="none" stroke-linejoin="miter"/>
<path d="M628.45 127.3 L628.45 163.3" stroke="#1c1c1c" stroke-width="2.3" fill="none" stroke-linejoin="round"/>
<path d="M690.95 127.3 L690.95 162 L693.95 162 L693.95 157.5" stroke="#1c1c1c" stroke-width="2.2" fill="none" stroke-linejoin="miter"/>
<path d="M690.95 245.3 L690.95 233.8" stroke="#1c1c1c" stroke-width="1.6" fill="none" stroke-linejoin="round"/>
<line x1="697.95" y1="158" x2="697.95" y2="236" stroke="#777" stroke-width="1.12"/>
<line x1="690.95" y1="165" x2="690.95" y2="231" stroke="#999" stroke-width="1.12"/>
<line x1="693.95" y1="165" x2="693.95" y2="231" stroke="#999" stroke-width="1.12"/>
<line x1="690.95" y1="168" x2="693.95" y2="168" stroke="#aaa" stroke-width="1.12"/>
<line x1="690.95" y1="173" x2="693.95" y2="173" stroke="#aaa" stroke-width="1.12"/>
<line x1="690.95" y1="178" x2="693.95" y2="178" stroke="#aaa" stroke-width="1.12"/>
<line x1="690.95" y1="183" x2="693.95" y2="183" stroke="#aaa" stroke-width="1.12"/>
<line x1="690.95" y1="188" x2="693.95" y2="188" stroke="#aaa" stroke-width="1.12"/>
<line x1="690.95" y1="193" x2="693.95" y2="193" stroke="#aaa" stroke-width="1.12"/>
<line x1="690.95" y1="198" x2="693.95" y2="198" stroke="#aaa" stroke-width="1.12"/>
<line x1="690.95" y1="203" x2="693.95" y2="203" stroke="#aaa" stroke-width="1.12"/>
<line x1="690.95" y1="208" x2="693.95" y2="208" stroke="#aaa" stroke-width="1.12"/>
<line x1="690.95" y1="213" x2="693.95" y2="213" stroke="#aaa" stroke-width="1.12"/>
<line x1="690.95" y1="218" x2="693.95" y2="218" stroke="#aaa" stroke-width="1.12"/>
<line x1="690.95" y1="223" x2="693.95" y2="223" stroke="#aaa" stroke-width="1.12"/>
<line x1="690.95" y1="228" x2="693.95" y2="228" stroke="#aaa" stroke-width="1.12"/>
<path d="M624.15 163.3 L624.15 174.6 L621.65 174.6 L621.65 184.2 L619.75 184.2 L619.75 212 L621.65 212 L621.65 224.3 L624.15 224.3 L624.15 234.8 L628.45 234.8 L628.45 245.3" stroke="#1c1c1c" stroke-width="2.5" fill="none" stroke-linejoin="miter"/>
<line x1="628.45" y1="127.6" x2="642.15" y2="127.6" stroke="#1c1c1c" stroke-width="2.6"/>
<line x1="676.15" y1="127.6" x2="690.85" y2="127.6" stroke="#1c1c1c" stroke-width="2.6"/>
<path d="M642.65 127.1 L642.65 130 M675.65 127.1 L675.65 130" stroke="#1c1c1c" stroke-width="1.4" fill="none" stroke-linejoin="round"/>
<rect x="643.05" y="127.8" width="33" height="8.6" rx="3.4" stroke="#333" stroke-width="1.2" fill="none"/>
<line x1="645.65" y1="134.4" x2="674.15" y2="134.4" stroke="#8a8a8a" stroke-width="1.12"/>
<line x1="630.15" y1="132.4" x2="641.15" y2="132.4" stroke="#8a8a8a" stroke-width="1.12"/>
<line x1="677.15" y1="132.4" x2="689.15" y2="132.4" stroke="#8a8a8a" stroke-width="1.12"/>
<line x1="633.15" y1="129" x2="633.15" y2="132" stroke="#333" stroke-width="1.2"/>
<line x1="635.65" y1="129" x2="635.65" y2="132" stroke="#333" stroke-width="1.2"/>
<line x1="638.15" y1="129" x2="638.15" y2="132" stroke="#333" stroke-width="1.2"/>
<line x1="680.15" y1="129" x2="680.15" y2="132" stroke="#333" stroke-width="1.2"/>
<line x1="682.65" y1="129" x2="682.65" y2="132" stroke="#333" stroke-width="1.2"/>
<line x1="685.15" y1="129" x2="685.15" y2="132" stroke="#333" stroke-width="1.2"/>
<path d="M628.45 245.3 L645.65 245.3 L645.65 240.5 L648.15 240.5" stroke="#1c1c1c" stroke-width="2.0" fill="none" stroke-linejoin="miter"/>
<path d="M690.85 245.3 L673.65 245.3 L673.65 240.5 L671.15 240.5" stroke="#1c1c1c" stroke-width="2.0" fill="none" stroke-linejoin="miter"/>
<line x1="630.65" y1="242" x2="643.65" y2="242" stroke="#8a8a8a" stroke-width="1.12"/>
<line x1="675.65" y1="242" x2="688.65" y2="242" stroke="#8a8a8a" stroke-width="1.12"/>
<path d="M648.65 240.5 L648.65 217.3 L652.05 217.3 L652.05 240.5" stroke="#333" stroke-width="1.12" fill="none" stroke-linejoin="round"/>
<path d="M654.45 240.5 L654.45 217.3 L657.85 217.3 L657.85 240.5" stroke="#333" stroke-width="1.12" fill="none" stroke-linejoin="round"/>
<path d="M660.85 240.5 L660.85 217.3 L664.25 217.3 L664.25 240.5" stroke="#333" stroke-width="1.12" fill="none" stroke-linejoin="round"/>
<path d="M666.65 240.5 L666.65 217.3 L670.05 217.3 L670.05 240.5" stroke="#333" stroke-width="1.12" fill="none" stroke-linejoin="round"/>
<path d="M648.15 240.5 Q650.35 243 652.25 240.5 M654.15 240.5 Q656.15 243 658.05 240.5 M660.65 240.5 Q662.65 243 664.45 240.5 M666.45 240.5 Q668.45 243 670.25 240.5" stroke="#1c1c1c" stroke-width="1.6" fill="none" stroke-linejoin="round"/>
<line x1="645.65" y1="137.5" x2="645.65" y2="216" stroke="#333" stroke-width="1.1"/>
<line x1="673.65" y1="137.5" x2="673.65" y2="216" stroke="#333" stroke-width="1.1"/>
<line x1="647.05" y1="137.5" x2="647.05" y2="240" stroke="#8a8a8a" stroke-width="1.12"/>
<line x1="672.25" y1="137.5" x2="672.25" y2="240" stroke="#8a8a8a" stroke-width="1.12"/>
<line x1="642.65" y1="216" x2="642.65" y2="240" stroke="#333" stroke-width="1.1"/>
<line x1="676.65" y1="216" x2="676.65" y2="240" stroke="#333" stroke-width="1.1"/>
<line x1="628.65" y1="216" x2="645.65" y2="216" stroke="#555" stroke-width="1.12"/>
<line x1="673.65" y1="216" x2="690.65" y2="216" stroke="#555" stroke-width="1.12"/>
<line x1="628.65" y1="172.5" x2="645.65" y2="172.5" stroke="#8a8a8a" stroke-width="1.12"/>
<line x1="673.65" y1="172.5" x2="690.65" y2="172.5" stroke="#8a8a8a" stroke-width="1.12"/>
<path d="M645.65 172.6 Q659.65 181 673.65 172.6" stroke="#333" stroke-width="1.1" fill="none" stroke-linejoin="round"/>
<line x1="630.15" y1="164" x2="630.15" y2="234" stroke="#aaa" stroke-width="1.12"/>
<line x1="689.15" y1="164" x2="689.15" y2="234" stroke="#aaa" stroke-width="1.12"/>
<line x1="628.15" y1="175" x2="628.15" y2="224" stroke="#bbb" stroke-width="1.12"/>
<line x1="691.15" y1="175" x2="691.15" y2="224" stroke="#bbb" stroke-width="1.12"/>
<line x1="623.15" y1="186" x2="623.15" y2="210" stroke="#555" stroke-width="1.12"/>
<line x1="696.15" y1="186" x2="696.15" y2="210" stroke="#555" stroke-width="1.12"/>
<rect x="646.95" y="186.6" width="25.4" height="22.8" rx="0" stroke="#333" stroke-width="1" fill="none" stroke-dasharray="4 2"/>
<line x1="620.65" y1="189.3" x2="646.95" y2="189.3" stroke="#333" stroke-width="1.12" stroke-dasharray="5 2"/>
<line x1="672.35" y1="189.3" x2="695.65" y2="189.3" stroke="#333" stroke-width="1.12" stroke-dasharray="5 2"/>
<line x1="620.65" y1="206.8" x2="646.95" y2="206.8" stroke="#333" stroke-width="1.12" stroke-dasharray="5 2"/>
<line x1="672.35" y1="206.8" x2="695.65" y2="206.8" stroke="#333" stroke-width="1.12" stroke-dasharray="5 2"/>
<path d="M689.65 190.5 A7 7 0 0 0 689.65 204.5" stroke="#1c1c1c" stroke-width="1.1" fill="none" stroke-linejoin="round"/>
<circle cx="635.85" cy="141.4" r="3.4" stroke="#1c1c1c" stroke-width="1.1" fill="none"/>
<line x1="630.35" y1="141.4" x2="641.35" y2="141.4" stroke="#333" stroke-width="1.12"/>
<line x1="635.85" y1="135.9" x2="635.85" y2="146.9" stroke="#333" stroke-width="1.12"/>
<circle cx="635.85" cy="164.4" r="3.4" stroke="#1c1c1c" stroke-width="1.1" fill="none"/>
<line x1="630.35" y1="164.4" x2="641.35" y2="164.4" stroke="#333" stroke-width="1.12"/>
<line x1="635.85" y1="158.9" x2="635.85" y2="169.9" stroke="#333" stroke-width="1.12"/>
<circle cx="635.85" cy="231" r="3.4" stroke="#1c1c1c" stroke-width="1.1" fill="none"/>
<line x1="630.35" y1="231" x2="641.35" y2="231" stroke="#333" stroke-width="1.12"/>
<line x1="635.85" y1="225.5" x2="635.85" y2="236.5" stroke="#333" stroke-width="1.12"/>
<circle cx="682.75" cy="141.4" r="3.4" stroke="#1c1c1c" stroke-width="1.1" fill="none"/>
<line x1="677.25" y1="141.4" x2="688.25" y2="141.4" stroke="#333" stroke-width="1.12"/>
<line x1="682.75" y1="135.9" x2="682.75" y2="146.9" stroke="#333" stroke-width="1.12"/>
<circle cx="682.75" cy="164.4" r="3.4" stroke="#1c1c1c" stroke-width="1.1" fill="none"/>
<line x1="677.25" y1="164.4" x2="688.25" y2="164.4" stroke="#333" stroke-width="1.12"/>
<line x1="682.75" y1="158.9" x2="682.75" y2="169.9" stroke="#333" stroke-width="1.12"/>
<circle cx="682.75" cy="231" r="3.4" stroke="#1c1c1c" stroke-width="1.1" fill="none"/>
<line x1="677.25" y1="231" x2="688.25" y2="231" stroke="#333" stroke-width="1.12"/>
<line x1="682.75" y1="225.5" x2="682.75" y2="236.5" stroke="#333" stroke-width="1.12"/>
<line x1="659.65" y1="55" x2="659.65" y2="127" stroke="#1c1c1c" stroke-width="1.12"/>
<line x1="659.65" y1="127" x2="659.65" y2="246" stroke="#1c1c1c" stroke-width="1.12" stroke-dasharray="14 2.5 3 2.5"/>
<line x1="659.65" y1="250" x2="659.65" y2="316.5" stroke="#1c1c1c" stroke-width="1.12"/>
<line x1="568.8" y1="157.8" x2="614" y2="157.8" stroke="#1c1c1c" stroke-width="1.12"/>
<line x1="614" y1="157.8" x2="675.65" y2="157.8" stroke="#1c1c1c" stroke-width="1.12" stroke-dasharray="12 2.5 3 2.5"/>
<line x1="589" y1="197.9" x2="619.65" y2="197.9" stroke="#1c1c1c" stroke-width="1.12"/>
<line x1="619.65" y1="197.9" x2="699.65" y2="197.9" stroke="#444" stroke-width="1.12" stroke-dasharray="12 2.5 3 2.5"/>
<line x1="659.65" y1="58.6" x2="709.9" y2="58.6" stroke="#1c1c1c" stroke-width="1.12"/>
<polygon points="659.65,58.6 666.95,56.6 666.95,60.6" fill="#1c1c1c"/>
<polygon points="709.9,58.6 702.6,56.6 702.6,60.6" fill="#1c1c1c"/>
<text x="685.6" y="56.4" font-size="12.0" text-anchor="middle" fill="#1c1c1c">AD</text>
<line x1="709.9" y1="54.2" x2="709.9" y2="136" stroke="#1c1c1c" stroke-width="1.12"/>
<line x1="619.4" y1="74.6" x2="698.7" y2="74.6" stroke="#1c1c1c" stroke-width="1.12"/>
<polygon points="619.4,74.6 626.7,72.6 626.7,76.6" fill="#1c1c1c"/>
<polygon points="698.7,74.6 691.4,72.6 691.4,76.6" fill="#1c1c1c"/>
<rect x="648.2" y="63.4" width="22" height="9.4" fill="#fff"/>
<text x="659.2" y="73.4" font-size="12.0" text-anchor="middle" fill="#1c1c1c">120</text>
<line x1="619.4" y1="70.7" x2="619.4" y2="183" stroke="#666" stroke-width="1.12"/>
<line x1="698.7" y1="70.7" x2="698.7" y2="134" stroke="#555" stroke-width="1.12"/>
<line x1="619.4" y1="91.8" x2="646.4" y2="91.8" stroke="#1c1c1c" stroke-width="1.12"/>
<polygon points="619.4,91.8 626.7,89.8 626.7,93.8" fill="#1c1c1c"/>
<polygon points="646.4,91.8 639.1,89.8 639.1,93.8" fill="#1c1c1c"/>
<text x="632.9" y="89" font-size="12.0" text-anchor="middle" fill="#1c1c1c">35</text>
<line x1="671.7" y1="91.8" x2="698.7" y2="91.8" stroke="#1c1c1c" stroke-width="1.12"/>
<polygon points="671.7,91.8 679,89.8 679,93.8" fill="#1c1c1c"/>
<polygon points="698.7,91.8 691.4,89.8 691.4,93.8" fill="#1c1c1c"/>
<text x="684.2" y="89" font-size="12.0" text-anchor="middle" fill="#1c1c1c">35</text>
<line x1="646.4" y1="88.6" x2="646.4" y2="128" stroke="#8a8a8a" stroke-width="1.12"/>
<line x1="671.7" y1="88.6" x2="671.7" y2="128" stroke="#8a8a8a" stroke-width="1.12"/>
<line x1="549.6" y1="113.2" x2="665.65" y2="113.2" stroke="#1c1c1c" stroke-width="1.12"/>
<line x1="549.6" y1="245.4" x2="628" y2="245.4" stroke="#1c1c1c" stroke-width="1.12"/>
<line x1="554.3" y1="113.2" x2="554.3" y2="245.4" stroke="#1c1c1c" stroke-width="1.12"/>
<polygon points="554.3,113.2 552.3,120.5 556.3,120.5" fill="#1c1c1c"/>
<polygon points="554.3,245.4 552.3,238.1 556.3,238.1" fill="#1c1c1c"/>
<text x="552.2" y="181.3" font-size="12.0" text-anchor="middle" fill="#1c1c1c" transform="rotate(-90 552.2 181.3)">H</text>
<line x1="573.2" y1="157.8" x2="573.2" y2="245.4" stroke="#1c1c1c" stroke-width="1.12"/>
<polygon points="573.2,157.8 571.2,165.1 575.2,165.1" fill="#1c1c1c"/>
<polygon points="573.2,245.4 571.2,238.1 575.2,238.1" fill="#1c1c1c"/>
<text x="571.2" y="200.8" font-size="12.0" text-anchor="middle" fill="#1c1c1c" transform="rotate(-90 571.2 200.8)">134.7</text>
<line x1="592.4" y1="157.8" x2="592.4" y2="197.9" stroke="#1c1c1c" stroke-width="1.12"/>
<polygon points="592.4,157.8 590.4,165.1 594.4,165.1" fill="#1c1c1c"/>
<polygon points="592.4,197.9 590.4,190.6 594.4,190.6" fill="#1c1c1c"/>
<text x="589.8" y="178.6" font-size="12.0" text-anchor="middle" fill="#1c1c1c" transform="rotate(-90 589.8 178.6)">62.2</text>
<path d="M700 138.2 L711 138.2 L711 155.8 L699.3 155.8" stroke="#1c1c1c" stroke-width="2.2" fill="none" stroke-linejoin="miter"/>
<path d="M711 155.8 Q713.5 155.5 714.3 152.5" stroke="#1c1c1c" stroke-width="1.6" fill="none" stroke-linejoin="round"/>
<path d="M693.5 233.5 Q694.5 238.2 698.5 238.8 L709 238.8 Q714 239 714.3 244" stroke="#1c1c1c" stroke-width="1.8" fill="none" stroke-linejoin="round"/>
<rect x="714.3" y="134.8" width="9.4" height="125" fill="#fff"/>
<path d="M714.3 156 L714.3 134.8 L723.7 134.8 L723.7 259.8 L714.3 259.8 L714.3 243" stroke="#1c1c1c" stroke-width="2.1" fill="none" stroke-linejoin="miter"/>
<line x1="714.6" y1="156" x2="714.6" y2="243" stroke="#888" stroke-width="1.12"/>
<line x1="719.3" y1="159" x2="719.3" y2="237" stroke="#1c1c1c" stroke-width="1.12" stroke-dasharray="6 2.5"/>
<line x1="720.8" y1="158" x2="720.8" y2="237" stroke="#777" stroke-width="1.12"/>
<line x1="728" y1="158" x2="752" y2="158" stroke="#1c1c1c" stroke-width="1.12"/>
<line x1="728" y1="235.6" x2="752" y2="235.6" stroke="#1c1c1c" stroke-width="1.12"/>
<line x1="746.7" y1="158" x2="746.7" y2="235.6" stroke="#1c1c1c" stroke-width="1.12"/>
<polygon points="746.7,158 744.7,165.3 748.7,165.3" fill="#1c1c1c"/>
<polygon points="746.7,235.6 744.7,228.3 748.7,228.3" fill="#1c1c1c"/>
<text transform="rotate(-90 744.3 197.5)" x="744.3" y="197.5" font-size="12.1" text-anchor="middle" fill="#1c1c1c">115 <tspan font-size="9">H8</tspan></text>
<line x1="728" y1="135" x2="770" y2="135" stroke="#1c1c1c" stroke-width="1.12"/>
<line x1="728" y1="259.9" x2="770" y2="259.9" stroke="#1c1c1c" stroke-width="1.12"/>
<line x1="765.6" y1="135" x2="765.6" y2="259.9" stroke="#1c1c1c" stroke-width="1.12"/>
<polygon points="765.6,135 763.6,142.3 767.6,142.3" fill="#1c1c1c"/>
<polygon points="765.6,259.9 763.6,252.6 767.6,252.6" fill="#1c1c1c"/>
<text x="764" y="197.5" font-size="12.0" text-anchor="middle" fill="#1c1c1c" transform="rotate(-90 764 197.5)">180</text>
<line x1="714.3" y1="262" x2="714.3" y2="297" stroke="#1c1c1c" stroke-width="1.12" stroke-dasharray="8 2.5"/>
<line x1="719.7" y1="262" x2="719.7" y2="281" stroke="#1c1c1c" stroke-width="1.12" stroke-dasharray="6 2"/>
<line x1="723.7" y1="262" x2="723.7" y2="314" stroke="#1c1c1c" stroke-width="1.12"/>
<line x1="695" y1="275.1" x2="719.7" y2="275.1" stroke="#1c1c1c" stroke-width="1.12"/>
<polygon points="719.7,275.1 712.4,273.1 712.4,277.1" fill="#1c1c1c"/>
<line x1="723.7" y1="275.1" x2="736.5" y2="275.1" stroke="#1c1c1c" stroke-width="1.12"/>
<polygon points="723.7,275.1 731,273.1 731,277.1" fill="#1c1c1c"/>
<text x="704.5" y="273.6" font-size="12.0" text-anchor="middle" fill="#1c1c1c">5</text>
<line x1="690.3" y1="294.4" x2="714.3" y2="294.4" stroke="#1c1c1c" stroke-width="1.12"/>
<polygon points="714.3,294.4 707,292.4 707,296.4" fill="#1c1c1c"/>
<line x1="723.7" y1="294.4" x2="736.5" y2="294.4" stroke="#1c1c1c" stroke-width="1.12"/>
<polygon points="723.7,294.4 731,292.4 731,296.4" fill="#1c1c1c"/>
<text x="697.1" y="292.2" font-size="12.0" text-anchor="middle" fill="#1c1c1c">11</text>
<line x1="659.65" y1="312.2" x2="723.7" y2="312.2" stroke="#1c1c1c" stroke-width="1.12"/>
<polygon points="659.65,312.2 666.95,310.2 666.95,314.2" fill="#1c1c1c"/>
<polygon points="723.7,312.2 716.4,310.2 716.4,314.2" fill="#1c1c1c"/>
<text x="691.7" y="310" font-size="12.0" text-anchor="middle" fill="#1c1c1c">86</text>
</g>
<rect x="564.8" y="373.3" width="41.2" height="17.6" fill="#a5a6a9"/>
<text x="585.4" y="387.3" font-size="15.5" text-anchor="middle" fill="#fff" font-weight="bold" stroke="#fff" stroke-width="0.6" textLength="27" lengthAdjust="spacingAndGlyphs">UF1</text>
<rect x="713.3" y="373.3" width="41.8" height="17.6" fill="#a5a6a9"/>
<text x="734.2" y="387.3" font-size="15.5" text-anchor="middle" fill="#fff" font-weight="bold" stroke="#fff" stroke-width="0.6" textLength="28" lengthAdjust="spacingAndGlyphs">UF2</text>
<rect x="566.1" y="657.4" width="43.2" height="16.4" fill="#a5a6a9"/>
<text x="587.7" y="670.2" font-size="15.5" text-anchor="middle" fill="#fff" font-weight="bold" stroke="#fff" stroke-width="0.6" textLength="37" lengthAdjust="spacingAndGlyphs">UFC1</text>
<rect x="715.6" y="657.4" width="42.2" height="16.4" fill="#a5a6a9"/>
<text x="736.7" y="670.2" font-size="15.5" text-anchor="middle" fill="#fff" font-weight="bold" stroke="#fff" stroke-width="0.6" textLength="38" lengthAdjust="spacingAndGlyphs">UFC2</text>
</svg>
</body></html>
